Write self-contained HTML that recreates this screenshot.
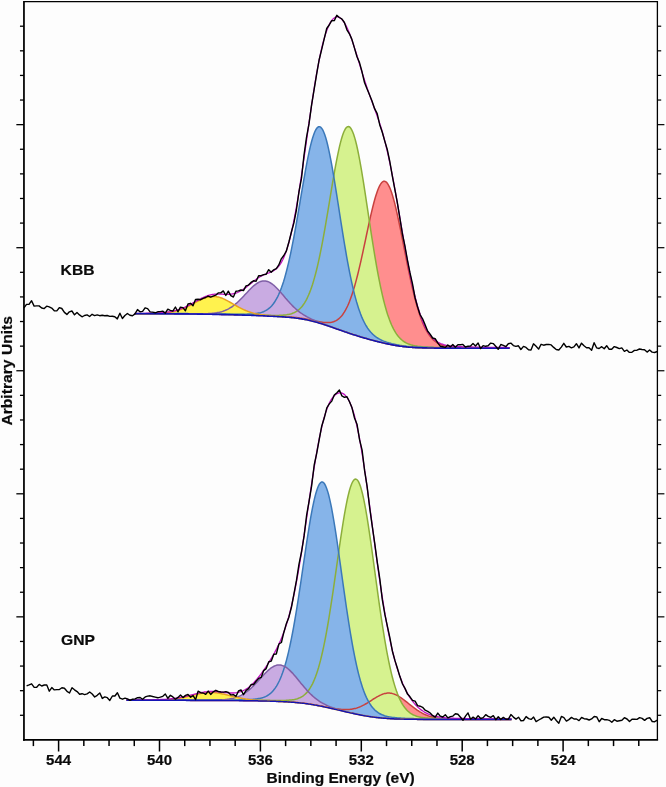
<!DOCTYPE html>
<html lang="en">
<head>
<meta charset="utf-8">
<title>XPS O 1s spectra</title>
<style>
html,body{margin:0;padding:0;background:#fdfdfd;}
body{width:666px;height:787px;overflow:hidden;}
svg{display:block;}
.t{font-family:"Liberation Sans",sans-serif;font-weight:bold;font-size:15px;fill:#0a0a0a;stroke:#0a0a0a;stroke-width:0.2px;}
.l{font-size:15px;}
</style>
</head>
<body>
<svg width="666" height="787" viewBox="0 0 666 787">
<rect width="666" height="787" fill="#fdfdfd"/>
<polygon points="268.6,315.8 269.6,315.8 270.6,315.9 271.6,315.9 272.6,316.0 273.6,316.0 274.6,316.1 275.6,316.1 276.6,316.2 277.6,316.2 278.6,316.3 279.6,316.3 280.6,316.4 281.6,316.4 282.6,316.5 283.6,316.5 284.6,316.6 285.6,316.7 286.6,316.7 287.6,316.8 288.6,316.9 289.6,317.0 290.6,317.0 291.6,317.1 292.6,317.2 293.6,317.3 294.6,317.4 295.6,317.5 296.6,317.6 297.6,317.8 298.6,317.9 299.6,318.0 300.6,318.2 301.6,318.3 302.6,318.5 303.6,318.6 304.6,318.8 305.6,319.0 306.6,319.2 307.6,319.3 308.6,319.5 309.6,319.7 310.6,319.9 311.6,320.1 312.6,320.3 313.6,320.5 314.6,320.7 315.6,321.0 316.6,321.2 317.6,321.4 318.6,321.6 319.6,321.7 320.6,321.9 321.6,322.1 322.6,322.2 323.6,322.4 324.6,322.5 325.6,322.6 326.6,322.6 327.6,322.6 328.6,322.6 329.6,322.5 330.6,322.4 331.6,322.3 332.6,322.0 333.6,321.7 334.6,321.3 335.6,320.9 336.6,320.3 337.6,319.7 338.6,318.9 339.6,318.0 340.6,317.0 341.6,315.9 342.6,314.7 343.6,313.2 344.6,311.7 345.6,309.9 346.6,308.0 347.6,306.0 348.6,303.7 349.6,301.3 350.6,298.6 351.6,295.8 352.6,292.8 353.6,289.6 354.6,286.2 355.6,282.6 356.6,278.9 357.6,275.0 358.6,270.9 359.6,266.7 360.6,262.3 361.6,257.9 362.6,253.3 363.6,248.7 364.6,244.0 365.6,239.3 366.6,234.5 367.6,229.8 368.6,225.2 369.6,220.6 370.6,216.1 371.6,211.8 372.6,207.7 373.6,203.7 374.6,200.0 375.6,196.5 376.6,193.4 377.6,190.5 378.6,188.0 379.6,185.9 380.6,184.1 381.6,182.8 382.6,181.8 383.6,181.3 384.6,181.2 385.6,181.6 386.6,182.4 387.6,183.6 388.6,185.3 389.6,187.3 390.6,189.7 391.6,192.5 392.6,195.7 393.6,199.2 394.6,202.9 395.6,207.0 396.6,211.3 397.6,215.8 398.6,220.5 399.6,225.3 400.6,230.2 401.6,235.3 402.6,240.4 403.6,245.5 404.6,250.6 405.6,255.7 406.6,260.8 407.6,265.8 408.6,270.6 409.6,275.4 410.6,280.1 411.6,284.6 412.6,289.0 413.6,293.2 414.6,297.2 415.6,301.0 416.6,304.7 417.6,308.1 418.6,311.4 419.6,314.5 420.6,317.4 421.6,320.1 422.6,322.6 423.6,324.9 424.6,327.1 425.6,329.1 426.6,331.0 427.6,332.6 428.6,334.2 429.6,335.6 430.6,336.9 431.6,338.1 432.6,339.1 433.6,340.1 434.6,340.9 435.6,341.7 436.6,342.4 437.6,343.0 438.6,343.5 439.6,344.0 440.6,344.5 441.6,344.8 442.6,345.2 443.6,345.5 444.6,345.7 445.6,346.0 446.6,346.2 447.6,346.4 448.6,346.5 449.6,346.6 450.6,346.8 451.6,346.9 452.6,347.0 453.6,347.0 454.6,347.1 455.6,347.2 456.6,347.2 457.6,347.3 458.6,347.3 459.6,347.4 460.6,347.4 461.6,347.4 462.6,347.5 463.6,347.5 464.6,347.5 465.6,347.5 466.6,347.6 467.6,347.6 468.6,347.6 469.6,347.6 470.6,347.6 471.6,347.6 472.6,347.6 473.6,347.7 474.6,347.7 475.6,347.7 476.6,347.7 477.6,347.7 478.6,347.7 479.6,347.7 480.6,347.7 481.6,347.7 482.6,347.8 483.6,347.8 484.6,347.8 485.6,347.8 486.6,347.8 487.6,347.8 488.6,347.8 489.6,347.8 490.6,347.8 491.6,347.8 492.6,347.8 493.6,347.8 494.6,347.9 495.6,347.9 496.6,347.9 497.6,347.9 498.6,347.9 499.6,347.9 500.6,347.9 500.6,348.2 499.6,348.2 498.6,348.2 497.6,348.2 496.6,348.2 495.6,348.2 494.6,348.2 493.6,348.2 492.6,348.2 491.6,348.2 490.6,348.2 489.6,348.2 488.6,348.2 487.6,348.2 486.6,348.2 485.6,348.2 484.6,348.2 483.6,348.2 482.6,348.2 481.6,348.2 480.6,348.2 479.6,348.2 478.6,348.2 477.6,348.2 476.6,348.2 475.6,348.2 474.6,348.2 473.6,348.2 472.6,348.2 471.6,348.2 470.6,348.2 469.6,348.2 468.6,348.2 467.6,348.2 466.6,348.2 465.6,348.2 464.6,348.2 463.6,348.2 462.6,348.2 461.6,348.2 460.6,348.1 459.6,348.1 458.6,348.1 457.6,348.1 456.6,348.1 455.6,348.1 454.6,348.1 453.6,348.1 452.6,348.1 451.6,348.1 450.6,348.1 449.6,348.1 448.6,348.1 447.6,348.1 446.6,348.1 445.6,348.1 444.6,348.1 443.6,348.1 442.6,348.1 441.6,348.1 440.6,348.1 439.6,348.1 438.6,348.1 437.6,348.1 436.6,348.1 435.6,348.1 434.6,348.1 433.6,348.0 432.6,348.0 431.6,348.0 430.6,348.0 429.6,348.0 428.6,348.0 427.6,348.0 426.6,347.9 425.6,347.9 424.6,347.9 423.6,347.9 422.6,347.9 421.6,347.8 420.6,347.8 419.6,347.8 418.6,347.7 417.6,347.7 416.6,347.6 415.6,347.6 414.6,347.5 413.6,347.5 412.6,347.4 411.6,347.3 410.6,347.3 409.6,347.2 408.6,347.1 407.6,347.0 406.6,346.9 405.6,346.8 404.6,346.7 403.6,346.6 402.6,346.5 401.6,346.3 400.6,346.2 399.6,346.1 398.6,345.9 397.6,345.8 396.6,345.6 395.6,345.4 394.6,345.3 393.6,345.1 392.6,344.9 391.6,344.7 390.6,344.5 389.6,344.3 388.6,344.1 387.6,343.9 386.6,343.7 385.6,343.5 384.6,343.2 383.6,343.0 382.6,342.8 381.6,342.5 380.6,342.3 379.6,342.1 378.6,341.8 377.6,341.6 376.6,341.3 375.6,341.1 374.6,340.8 373.6,340.5 372.6,340.3 371.6,340.0 370.6,339.7 369.6,339.5 368.6,339.2 367.6,338.9 366.6,338.6 365.6,338.3 364.6,338.1 363.6,337.8 362.6,337.5 361.6,337.2 360.6,336.9 359.6,336.6 358.6,336.3 357.6,336.0 356.6,335.6 355.6,335.3 354.6,335.0 353.6,334.7 352.6,334.4 351.6,334.0 350.6,333.7 349.6,333.4 348.6,333.0 347.6,332.7 346.6,332.3 345.6,332.0 344.6,331.7 343.6,331.3 342.6,331.0 341.6,330.6 340.6,330.3 339.6,329.9 338.6,329.6 337.6,329.2 336.6,328.9 335.6,328.5 334.6,328.2 333.6,327.8 332.6,327.5 331.6,327.1 330.6,326.8 329.6,326.4 328.6,326.1 327.6,325.7 326.6,325.4 325.6,325.1 324.6,324.7 323.6,324.4 322.6,324.1 321.6,323.8 320.6,323.5 319.6,323.2 318.6,322.9 317.6,322.6 316.6,322.3 315.6,322.0 314.6,321.7 313.6,321.5 312.6,321.2 311.6,321.0 310.6,320.7 309.6,320.5 308.6,320.3 307.6,320.0 306.6,319.8 305.6,319.6 304.6,319.4 303.6,319.3 302.6,319.1 301.6,318.9 300.6,318.7 299.6,318.6 298.6,318.4 297.6,318.3 296.6,318.2 295.6,318.0 294.6,317.9 293.6,317.8 292.6,317.7 291.6,317.6 290.6,317.5 289.6,317.4 288.6,317.3 287.6,317.2 286.6,317.2 285.6,317.1 284.6,317.0 283.6,316.9 282.6,316.9 281.6,316.8 280.6,316.7 279.6,316.7 278.6,316.6 277.6,316.6 276.6,316.5 275.6,316.5 274.6,316.4 273.6,316.4 272.6,316.3 271.6,316.3 270.6,316.2 269.6,316.2 268.6,316.1" fill="#ff8e8e"/>
<polygon points="217.6,314.2 218.6,314.2 219.6,314.2 220.6,314.2 221.6,314.2 222.6,314.3 223.6,314.3 224.6,314.3 225.6,314.3 226.6,314.3 227.6,314.3 228.6,314.4 229.6,314.4 230.6,314.4 231.6,314.4 232.6,314.4 233.6,314.4 234.6,314.5 235.6,314.5 236.6,314.5 237.6,314.5 238.6,314.5 239.6,314.6 240.6,314.6 241.6,314.6 242.6,314.6 243.6,314.6 244.6,314.7 245.6,314.7 246.6,314.7 247.6,314.7 248.6,314.7 249.6,314.8 250.6,314.8 251.6,314.8 252.6,314.8 253.6,314.9 254.6,314.9 255.6,314.9 256.6,315.0 257.6,315.0 258.6,315.0 259.6,315.0 260.6,315.1 261.6,315.1 262.6,315.1 263.6,315.2 264.6,315.2 265.6,315.2 266.6,315.2 267.6,315.3 268.6,315.3 269.6,315.3 270.6,315.3 271.6,315.4 272.6,315.4 273.6,315.4 274.6,315.4 275.6,315.4 276.6,315.4 277.6,315.4 278.6,315.4 279.6,315.3 280.6,315.3 281.6,315.3 282.6,315.2 283.6,315.1 284.6,315.0 285.6,314.9 286.6,314.8 287.6,314.6 288.6,314.5 289.6,314.2 290.6,314.0 291.6,313.7 292.6,313.3 293.6,312.9 294.6,312.5 295.6,311.9 296.6,311.3 297.6,310.6 298.6,309.8 299.6,309.0 300.6,308.0 301.6,306.9 302.6,305.7 303.6,304.3 304.6,302.8 305.6,301.1 306.6,299.3 307.6,297.2 308.6,295.0 309.6,292.6 310.6,290.0 311.6,287.2 312.6,284.2 313.6,280.9 314.6,277.4 315.6,273.7 316.6,269.7 317.6,265.6 318.6,261.1 319.6,256.5 320.6,251.7 321.6,246.6 322.6,241.3 323.6,235.9 324.6,230.3 325.6,224.6 326.6,218.7 327.6,212.8 328.6,206.8 329.6,200.8 330.6,194.7 331.6,188.7 332.6,182.7 333.6,176.9 334.6,171.2 335.6,165.7 336.6,160.4 337.6,155.3 338.6,150.6 339.6,146.2 340.6,142.1 341.6,138.5 342.6,135.3 343.6,132.5 344.6,130.3 345.6,128.5 346.6,127.3 347.6,126.7 348.6,126.6 349.6,127.0 350.6,128.0 351.6,129.6 352.6,131.7 353.6,134.3 354.6,137.4 355.6,141.0 356.6,145.0 357.6,149.5 358.6,154.4 359.6,159.6 360.6,165.1 361.6,170.9 362.6,177.0 363.6,183.2 364.6,189.6 365.6,196.1 366.6,202.8 367.6,209.4 368.6,216.1 369.6,222.7 370.6,229.3 371.6,235.8 372.6,242.2 373.6,248.5 374.6,254.6 375.6,260.5 376.6,266.3 377.6,271.8 378.6,277.2 379.6,282.2 380.6,287.1 381.6,291.7 382.6,296.1 383.6,300.2 384.6,304.1 385.6,307.8 386.6,311.2 387.6,314.4 388.6,317.3 389.6,320.1 390.6,322.6 391.6,325.0 392.6,327.1 393.6,329.1 394.6,330.9 395.6,332.6 396.6,334.1 397.6,335.5 398.6,336.7 399.6,337.8 400.6,338.9 401.6,339.8 402.6,340.6 403.6,341.3 404.6,342.0 405.6,342.6 406.6,343.1 407.6,343.6 408.6,344.0 409.6,344.4 410.6,344.8 411.6,345.1 412.6,345.3 413.6,345.6 414.6,345.8 415.6,346.0 416.6,346.1 417.6,346.3 418.6,346.4 419.6,346.5 420.6,346.6 421.6,346.7 422.6,346.8 423.6,346.9 424.6,346.9 425.6,347.0 426.6,347.1 427.6,347.1 428.6,347.2 429.6,347.2 430.6,347.2 431.6,347.3 432.6,347.3 433.6,347.3 434.6,347.4 435.6,347.4 436.6,347.4 437.6,347.4 438.6,347.5 439.6,347.5 440.6,347.5 441.6,347.5 442.6,347.5 443.6,347.5 444.6,347.6 445.6,347.6 446.6,347.6 447.6,347.6 448.6,347.6 449.6,347.6 450.6,347.6 451.6,347.6 452.6,347.7 453.6,347.7 454.6,347.7 455.6,347.7 456.6,347.7 457.6,347.7 458.6,347.7 459.6,347.7 460.6,347.7 461.6,347.7 462.6,347.8 463.6,347.8 464.6,347.8 465.6,347.8 466.6,347.8 467.6,347.8 468.6,347.8 469.6,347.8 470.6,347.8 471.6,347.8 472.6,347.8 473.6,347.8 474.6,347.8 475.6,347.8 476.6,347.9 477.6,347.9 478.6,347.9 479.6,347.9 480.6,347.9 480.6,348.2 479.6,348.2 478.6,348.2 477.6,348.2 476.6,348.2 475.6,348.2 474.6,348.2 473.6,348.2 472.6,348.2 471.6,348.2 470.6,348.2 469.6,348.2 468.6,348.2 467.6,348.2 466.6,348.2 465.6,348.2 464.6,348.2 463.6,348.2 462.6,348.2 461.6,348.2 460.6,348.1 459.6,348.1 458.6,348.1 457.6,348.1 456.6,348.1 455.6,348.1 454.6,348.1 453.6,348.1 452.6,348.1 451.6,348.1 450.6,348.1 449.6,348.1 448.6,348.1 447.6,348.1 446.6,348.1 445.6,348.1 444.6,348.1 443.6,348.1 442.6,348.1 441.6,348.1 440.6,348.1 439.6,348.1 438.6,348.1 437.6,348.1 436.6,348.1 435.6,348.1 434.6,348.1 433.6,348.0 432.6,348.0 431.6,348.0 430.6,348.0 429.6,348.0 428.6,348.0 427.6,348.0 426.6,347.9 425.6,347.9 424.6,347.9 423.6,347.9 422.6,347.9 421.6,347.8 420.6,347.8 419.6,347.8 418.6,347.7 417.6,347.7 416.6,347.6 415.6,347.6 414.6,347.5 413.6,347.5 412.6,347.4 411.6,347.3 410.6,347.3 409.6,347.2 408.6,347.1 407.6,347.0 406.6,346.9 405.6,346.8 404.6,346.7 403.6,346.6 402.6,346.5 401.6,346.3 400.6,346.2 399.6,346.1 398.6,345.9 397.6,345.8 396.6,345.6 395.6,345.4 394.6,345.3 393.6,345.1 392.6,344.9 391.6,344.7 390.6,344.5 389.6,344.3 388.6,344.1 387.6,343.9 386.6,343.7 385.6,343.5 384.6,343.2 383.6,343.0 382.6,342.8 381.6,342.5 380.6,342.3 379.6,342.1 378.6,341.8 377.6,341.6 376.6,341.3 375.6,341.1 374.6,340.8 373.6,340.5 372.6,340.3 371.6,340.0 370.6,339.7 369.6,339.5 368.6,339.2 367.6,338.9 366.6,338.6 365.6,338.3 364.6,338.1 363.6,337.8 362.6,337.5 361.6,337.2 360.6,336.9 359.6,336.6 358.6,336.3 357.6,336.0 356.6,335.6 355.6,335.3 354.6,335.0 353.6,334.7 352.6,334.4 351.6,334.0 350.6,333.7 349.6,333.4 348.6,333.0 347.6,332.7 346.6,332.3 345.6,332.0 344.6,331.7 343.6,331.3 342.6,331.0 341.6,330.6 340.6,330.3 339.6,329.9 338.6,329.6 337.6,329.2 336.6,328.9 335.6,328.5 334.6,328.2 333.6,327.8 332.6,327.5 331.6,327.1 330.6,326.8 329.6,326.4 328.6,326.1 327.6,325.7 326.6,325.4 325.6,325.1 324.6,324.7 323.6,324.4 322.6,324.1 321.6,323.8 320.6,323.5 319.6,323.2 318.6,322.9 317.6,322.6 316.6,322.3 315.6,322.0 314.6,321.7 313.6,321.5 312.6,321.2 311.6,321.0 310.6,320.7 309.6,320.5 308.6,320.3 307.6,320.0 306.6,319.8 305.6,319.6 304.6,319.4 303.6,319.3 302.6,319.1 301.6,318.9 300.6,318.7 299.6,318.6 298.6,318.4 297.6,318.3 296.6,318.2 295.6,318.0 294.6,317.9 293.6,317.8 292.6,317.7 291.6,317.6 290.6,317.5 289.6,317.4 288.6,317.3 287.6,317.2 286.6,317.2 285.6,317.1 284.6,317.0 283.6,316.9 282.6,316.9 281.6,316.8 280.6,316.7 279.6,316.7 278.6,316.6 277.6,316.6 276.6,316.5 275.6,316.5 274.6,316.4 273.6,316.4 272.6,316.3 271.6,316.3 270.6,316.2 269.6,316.2 268.6,316.1 267.6,316.1 266.6,316.0 265.6,316.0 264.6,315.9 263.6,315.9 262.6,315.8 261.6,315.8 260.6,315.7 259.6,315.7 258.6,315.6 257.6,315.6 256.6,315.6 255.6,315.5 254.6,315.5 253.6,315.4 252.6,315.4 251.6,315.4 250.6,315.3 249.6,315.3 248.6,315.3 247.6,315.2 246.6,315.2 245.6,315.2 244.6,315.1 243.6,315.1 242.6,315.1 241.6,315.0 240.6,315.0 239.6,315.0 238.6,315.0 237.6,314.9 236.6,314.9 235.6,314.9 234.6,314.9 233.6,314.8 232.6,314.8 231.6,314.8 230.6,314.8 229.6,314.7 228.6,314.7 227.6,314.7 226.6,314.7 225.6,314.6 224.6,314.6 223.6,314.6 222.6,314.6 221.6,314.6 220.6,314.5 219.6,314.5 218.6,314.5 217.6,314.5" fill="#d6f28f"/>
<polygon points="191.6,313.7 192.6,313.7 193.6,313.7 194.6,313.7 195.6,313.7 196.6,313.7 197.6,313.7 198.6,313.7 199.6,313.7 200.6,313.8 201.6,313.8 202.6,313.8 203.6,313.8 204.6,313.8 205.6,313.8 206.6,313.8 207.6,313.9 208.6,313.9 209.6,313.9 210.6,313.9 211.6,313.9 212.6,313.9 213.6,313.9 214.6,314.0 215.6,314.0 216.6,314.0 217.6,314.0 218.6,314.0 219.6,314.0 220.6,314.0 221.6,314.1 222.6,314.1 223.6,314.1 224.6,314.1 225.6,314.1 226.6,314.1 227.6,314.1 228.6,314.1 229.6,314.1 230.6,314.2 231.6,314.2 232.6,314.2 233.6,314.2 234.6,314.2 235.6,314.2 236.6,314.2 237.6,314.2 238.6,314.2 239.6,314.2 240.6,314.2 241.6,314.2 242.6,314.2 243.6,314.2 244.6,314.2 245.6,314.2 246.6,314.2 247.6,314.1 248.6,314.1 249.6,314.1 250.6,314.0 251.6,314.0 252.6,313.9 253.6,313.8 254.6,313.7 255.6,313.6 256.6,313.5 257.6,313.3 258.6,313.1 259.6,312.9 260.6,312.7 261.6,312.4 262.6,312.0 263.6,311.7 264.6,311.2 265.6,310.7 266.6,310.1 267.6,309.5 268.6,308.7 269.6,307.9 270.6,307.0 271.6,305.9 272.6,304.7 273.6,303.5 274.6,302.0 275.6,300.4 276.6,298.7 277.6,296.8 278.6,294.7 279.6,292.4 280.6,290.0 281.6,287.3 282.6,284.4 283.6,281.4 284.6,278.1 285.6,274.5 286.6,270.8 287.6,266.8 288.6,262.6 289.6,258.2 290.6,253.6 291.6,248.7 292.6,243.7 293.6,238.5 294.6,233.1 295.6,227.6 296.6,222.0 297.6,216.2 298.6,210.4 299.6,204.5 300.6,198.5 301.6,192.6 302.6,186.8 303.6,181.0 304.6,175.3 305.6,169.7 306.6,164.3 307.6,159.2 308.6,154.3 309.6,149.7 310.6,145.4 311.6,141.5 312.6,138.0 313.6,134.9 314.6,132.3 315.6,130.2 316.6,128.5 317.6,127.4 318.6,126.8 319.6,126.7 320.6,127.2 321.6,128.2 322.6,129.7 323.6,131.7 324.6,134.3 325.6,137.3 326.6,140.8 327.6,144.8 328.6,149.1 329.6,153.8 330.6,158.8 331.6,164.2 332.6,169.8 333.6,175.6 334.6,181.7 335.6,187.8 336.6,194.1 337.6,200.5 338.6,206.9 339.6,213.4 340.6,219.8 341.6,226.1 342.6,232.4 343.6,238.6 344.6,244.6 345.6,250.5 346.6,256.3 347.6,261.8 348.6,267.2 349.6,272.3 350.6,277.2 351.6,281.9 352.6,286.4 353.6,290.6 354.6,294.7 355.6,298.4 356.6,302.0 357.6,305.3 358.6,308.4 359.6,311.3 360.6,314.1 361.6,316.6 362.6,318.9 363.6,321.0 364.6,323.0 365.6,324.9 366.6,326.5 367.6,328.1 368.6,329.5 369.6,330.8 370.6,332.0 371.6,333.1 372.6,334.1 373.6,335.0 374.6,335.9 375.6,336.7 376.6,337.4 377.6,338.0 378.6,338.6 379.6,339.2 380.6,339.7 381.6,340.2 382.6,340.6 383.6,341.1 384.6,341.4 385.6,341.8 386.6,342.2 387.6,342.5 388.6,342.8 389.6,343.1 390.6,343.3 391.6,343.6 392.6,343.9 393.6,344.1 394.6,344.3 395.6,344.5 396.6,344.7 397.6,344.9 398.6,345.1 399.6,345.3 400.6,345.4 401.6,345.6 402.6,345.7 403.6,345.9 404.6,346.0 405.6,346.1 406.6,346.3 407.6,346.4 408.6,346.5 409.6,346.6 410.6,346.7 411.6,346.7 412.6,346.8 413.6,346.9 414.6,347.0 415.6,347.0 416.6,347.1 417.6,347.2 418.6,347.2 419.6,347.3 420.6,347.3 421.6,347.3 422.6,347.4 423.6,347.4 424.6,347.5 425.6,347.5 426.6,347.5 427.6,347.5 428.6,347.6 429.6,347.6 430.6,347.6 431.6,347.6 432.6,347.6 433.6,347.7 434.6,347.7 435.6,347.7 436.6,347.7 437.6,347.7 438.6,347.7 439.6,347.7 440.6,347.8 441.6,347.8 442.6,347.8 443.6,347.8 444.6,347.8 445.6,347.8 446.6,347.8 447.6,347.8 447.6,348.1 446.6,348.1 445.6,348.1 444.6,348.1 443.6,348.1 442.6,348.1 441.6,348.1 440.6,348.1 439.6,348.1 438.6,348.1 437.6,348.1 436.6,348.1 435.6,348.1 434.6,348.1 433.6,348.0 432.6,348.0 431.6,348.0 430.6,348.0 429.6,348.0 428.6,348.0 427.6,348.0 426.6,347.9 425.6,347.9 424.6,347.9 423.6,347.9 422.6,347.9 421.6,347.8 420.6,347.8 419.6,347.8 418.6,347.7 417.6,347.7 416.6,347.6 415.6,347.6 414.6,347.5 413.6,347.5 412.6,347.4 411.6,347.3 410.6,347.3 409.6,347.2 408.6,347.1 407.6,347.0 406.6,346.9 405.6,346.8 404.6,346.7 403.6,346.6 402.6,346.5 401.6,346.3 400.6,346.2 399.6,346.1 398.6,345.9 397.6,345.8 396.6,345.6 395.6,345.4 394.6,345.3 393.6,345.1 392.6,344.9 391.6,344.7 390.6,344.5 389.6,344.3 388.6,344.1 387.6,343.9 386.6,343.7 385.6,343.5 384.6,343.2 383.6,343.0 382.6,342.8 381.6,342.5 380.6,342.3 379.6,342.1 378.6,341.8 377.6,341.6 376.6,341.3 375.6,341.1 374.6,340.8 373.6,340.5 372.6,340.3 371.6,340.0 370.6,339.7 369.6,339.5 368.6,339.2 367.6,338.9 366.6,338.6 365.6,338.3 364.6,338.1 363.6,337.8 362.6,337.5 361.6,337.2 360.6,336.9 359.6,336.6 358.6,336.3 357.6,336.0 356.6,335.6 355.6,335.3 354.6,335.0 353.6,334.7 352.6,334.4 351.6,334.0 350.6,333.7 349.6,333.4 348.6,333.0 347.6,332.7 346.6,332.3 345.6,332.0 344.6,331.7 343.6,331.3 342.6,331.0 341.6,330.6 340.6,330.3 339.6,329.9 338.6,329.6 337.6,329.2 336.6,328.9 335.6,328.5 334.6,328.2 333.6,327.8 332.6,327.5 331.6,327.1 330.6,326.8 329.6,326.4 328.6,326.1 327.6,325.7 326.6,325.4 325.6,325.1 324.6,324.7 323.6,324.4 322.6,324.1 321.6,323.8 320.6,323.5 319.6,323.2 318.6,322.9 317.6,322.6 316.6,322.3 315.6,322.0 314.6,321.7 313.6,321.5 312.6,321.2 311.6,321.0 310.6,320.7 309.6,320.5 308.6,320.3 307.6,320.0 306.6,319.8 305.6,319.6 304.6,319.4 303.6,319.3 302.6,319.1 301.6,318.9 300.6,318.7 299.6,318.6 298.6,318.4 297.6,318.3 296.6,318.2 295.6,318.0 294.6,317.9 293.6,317.8 292.6,317.7 291.6,317.6 290.6,317.5 289.6,317.4 288.6,317.3 287.6,317.2 286.6,317.2 285.6,317.1 284.6,317.0 283.6,316.9 282.6,316.9 281.6,316.8 280.6,316.7 279.6,316.7 278.6,316.6 277.6,316.6 276.6,316.5 275.6,316.5 274.6,316.4 273.6,316.4 272.6,316.3 271.6,316.3 270.6,316.2 269.6,316.2 268.6,316.1 267.6,316.1 266.6,316.0 265.6,316.0 264.6,315.9 263.6,315.9 262.6,315.8 261.6,315.8 260.6,315.7 259.6,315.7 258.6,315.6 257.6,315.6 256.6,315.6 255.6,315.5 254.6,315.5 253.6,315.4 252.6,315.4 251.6,315.4 250.6,315.3 249.6,315.3 248.6,315.3 247.6,315.2 246.6,315.2 245.6,315.2 244.6,315.1 243.6,315.1 242.6,315.1 241.6,315.0 240.6,315.0 239.6,315.0 238.6,315.0 237.6,314.9 236.6,314.9 235.6,314.9 234.6,314.9 233.6,314.8 232.6,314.8 231.6,314.8 230.6,314.8 229.6,314.7 228.6,314.7 227.6,314.7 226.6,314.7 225.6,314.6 224.6,314.6 223.6,314.6 222.6,314.6 221.6,314.6 220.6,314.5 219.6,314.5 218.6,314.5 217.6,314.5 216.6,314.4 215.6,314.4 214.6,314.4 213.6,314.4 212.6,314.4 211.6,314.3 210.6,314.3 209.6,314.3 208.6,314.3 207.6,314.2 206.6,314.2 205.6,314.2 204.6,314.2 203.6,314.2 202.6,314.1 201.6,314.1 200.6,314.1 199.6,314.1 198.6,314.1 197.6,314.1 196.6,314.0 195.6,314.0 194.6,314.0 193.6,314.0 192.6,314.0 191.6,314.0" fill="#86b4e9"/>
<polygon points="201.6,313.8 202.6,313.8 203.6,313.8 204.6,313.7 205.6,313.7 206.6,313.7 207.6,313.7 208.6,313.6 209.6,313.5 210.6,313.5 211.6,313.4 212.6,313.3 213.6,313.2 214.6,313.1 215.6,312.9 216.6,312.8 217.6,312.6 218.6,312.4 219.6,312.2 220.6,311.9 221.6,311.7 222.6,311.4 223.6,311.0 224.6,310.6 225.6,310.2 226.6,309.8 227.6,309.3 228.6,308.8 229.6,308.2 230.6,307.6 231.6,307.0 232.6,306.3 233.6,305.5 234.6,304.8 235.6,303.9 236.6,303.1 237.6,302.2 238.6,301.3 239.6,300.3 240.6,299.3 241.6,298.3 242.6,297.2 243.6,296.2 244.6,295.1 245.6,294.0 246.6,293.0 247.6,291.9 248.6,290.8 249.6,289.8 250.6,288.8 251.6,287.8 252.6,286.8 253.6,285.9 254.6,285.1 255.6,284.3 256.6,283.6 257.6,283.0 258.6,282.4 259.6,281.9 260.6,281.5 261.6,281.2 262.6,281.0 263.6,280.9 264.6,280.9 265.6,281.0 266.6,281.2 267.6,281.5 268.6,281.9 269.6,282.4 270.6,283.0 271.6,283.6 272.6,284.3 273.6,285.2 274.6,286.0 275.6,287.0 276.6,288.0 277.6,289.0 278.6,290.1 279.6,291.2 280.6,292.3 281.6,293.5 282.6,294.6 283.6,295.8 284.6,297.0 285.6,298.2 286.6,299.3 287.6,300.5 288.6,301.6 289.6,302.7 290.6,303.8 291.6,304.8 292.6,305.9 293.6,306.9 294.6,307.8 295.6,308.7 296.6,309.6 297.6,310.5 298.6,311.3 299.6,312.1 300.6,312.8 301.6,313.5 302.6,314.2 303.6,314.8 304.6,315.4 305.6,316.0 306.6,316.6 307.6,317.1 308.6,317.7 309.6,318.2 310.6,318.7 311.6,319.1 312.6,319.6 313.6,320.0 314.6,320.4 315.6,320.9 316.6,321.3 317.6,321.7 318.6,322.1 319.6,322.4 320.6,322.8 321.6,323.2 322.6,323.6 323.6,323.9 324.6,324.3 325.6,324.7 326.6,325.0 327.6,325.4 327.6,325.7 326.6,325.4 325.6,325.1 324.6,324.7 323.6,324.4 322.6,324.1 321.6,323.8 320.6,323.5 319.6,323.2 318.6,322.9 317.6,322.6 316.6,322.3 315.6,322.0 314.6,321.7 313.6,321.5 312.6,321.2 311.6,321.0 310.6,320.7 309.6,320.5 308.6,320.3 307.6,320.0 306.6,319.8 305.6,319.6 304.6,319.4 303.6,319.3 302.6,319.1 301.6,318.9 300.6,318.7 299.6,318.6 298.6,318.4 297.6,318.3 296.6,318.2 295.6,318.0 294.6,317.9 293.6,317.8 292.6,317.7 291.6,317.6 290.6,317.5 289.6,317.4 288.6,317.3 287.6,317.2 286.6,317.2 285.6,317.1 284.6,317.0 283.6,316.9 282.6,316.9 281.6,316.8 280.6,316.7 279.6,316.7 278.6,316.6 277.6,316.6 276.6,316.5 275.6,316.5 274.6,316.4 273.6,316.4 272.6,316.3 271.6,316.3 270.6,316.2 269.6,316.2 268.6,316.1 267.6,316.1 266.6,316.0 265.6,316.0 264.6,315.9 263.6,315.9 262.6,315.8 261.6,315.8 260.6,315.7 259.6,315.7 258.6,315.6 257.6,315.6 256.6,315.6 255.6,315.5 254.6,315.5 253.6,315.4 252.6,315.4 251.6,315.4 250.6,315.3 249.6,315.3 248.6,315.3 247.6,315.2 246.6,315.2 245.6,315.2 244.6,315.1 243.6,315.1 242.6,315.1 241.6,315.0 240.6,315.0 239.6,315.0 238.6,315.0 237.6,314.9 236.6,314.9 235.6,314.9 234.6,314.9 233.6,314.8 232.6,314.8 231.6,314.8 230.6,314.8 229.6,314.7 228.6,314.7 227.6,314.7 226.6,314.7 225.6,314.6 224.6,314.6 223.6,314.6 222.6,314.6 221.6,314.6 220.6,314.5 219.6,314.5 218.6,314.5 217.6,314.5 216.6,314.4 215.6,314.4 214.6,314.4 213.6,314.4 212.6,314.4 211.6,314.3 210.6,314.3 209.6,314.3 208.6,314.3 207.6,314.2 206.6,314.2 205.6,314.2 204.6,314.2 203.6,314.2 202.6,314.1 201.6,314.1" fill="#c9abe2"/>
<polygon points="155.6,313.5 156.6,313.5 157.6,313.4 158.6,313.4 159.6,313.3 160.6,313.3 161.6,313.2 162.6,313.1 163.6,313.0 164.6,313.0 165.6,312.9 166.6,312.7 167.6,312.6 168.6,312.5 169.6,312.3 170.6,312.2 171.6,312.0 172.6,311.8 173.6,311.6 174.6,311.4 175.6,311.1 176.6,310.8 177.6,310.5 178.6,310.2 179.6,309.9 180.6,309.6 181.6,309.2 182.6,308.8 183.6,308.4 184.6,308.0 185.6,307.5 186.6,307.0 187.6,306.6 188.6,306.1 189.6,305.6 190.6,305.0 191.6,304.5 192.6,304.0 193.6,303.4 194.6,302.9 195.6,302.3 196.6,301.8 197.6,301.3 198.6,300.8 199.6,300.3 200.6,299.8 201.6,299.3 202.6,298.8 203.6,298.4 204.6,298.0 205.6,297.7 206.6,297.4 207.6,297.1 208.6,296.9 209.6,296.7 210.6,296.5 211.6,296.4 212.6,296.4 213.6,296.4 214.6,296.4 215.6,296.5 216.6,296.7 217.6,296.9 218.6,297.1 219.6,297.4 220.6,297.7 221.6,298.0 222.6,298.4 223.6,298.9 224.6,299.3 225.6,299.8 226.6,300.3 227.6,300.9 228.6,301.4 229.6,302.0 230.6,302.5 231.6,303.1 232.6,303.7 233.6,304.3 234.6,304.8 235.6,305.4 236.6,306.0 237.6,306.5 238.6,307.1 239.6,307.6 240.6,308.1 241.6,308.6 242.6,309.1 243.6,309.6 244.6,310.0 245.6,310.5 246.6,310.9 247.6,311.3 248.6,311.6 249.6,312.0 250.6,312.3 251.6,312.6 252.6,312.9 253.6,313.2 254.6,313.4 255.6,313.7 256.6,313.9 257.6,314.1 258.6,314.3 259.6,314.5 260.6,314.7 261.6,314.8 262.6,315.0 263.6,315.1 264.6,315.2 265.6,315.3 266.6,315.5 267.6,315.6 268.6,315.7 269.6,315.8 270.6,315.9 271.6,315.9 271.6,316.3 270.6,316.2 269.6,316.2 268.6,316.1 267.6,316.1 266.6,316.0 265.6,316.0 264.6,315.9 263.6,315.9 262.6,315.8 261.6,315.8 260.6,315.7 259.6,315.7 258.6,315.6 257.6,315.6 256.6,315.6 255.6,315.5 254.6,315.5 253.6,315.4 252.6,315.4 251.6,315.4 250.6,315.3 249.6,315.3 248.6,315.3 247.6,315.2 246.6,315.2 245.6,315.2 244.6,315.1 243.6,315.1 242.6,315.1 241.6,315.0 240.6,315.0 239.6,315.0 238.6,315.0 237.6,314.9 236.6,314.9 235.6,314.9 234.6,314.9 233.6,314.8 232.6,314.8 231.6,314.8 230.6,314.8 229.6,314.7 228.6,314.7 227.6,314.7 226.6,314.7 225.6,314.6 224.6,314.6 223.6,314.6 222.6,314.6 221.6,314.6 220.6,314.5 219.6,314.5 218.6,314.5 217.6,314.5 216.6,314.4 215.6,314.4 214.6,314.4 213.6,314.4 212.6,314.4 211.6,314.3 210.6,314.3 209.6,314.3 208.6,314.3 207.6,314.2 206.6,314.2 205.6,314.2 204.6,314.2 203.6,314.2 202.6,314.1 201.6,314.1 200.6,314.1 199.6,314.1 198.6,314.1 197.6,314.1 196.6,314.0 195.6,314.0 194.6,314.0 193.6,314.0 192.6,314.0 191.6,314.0 190.6,314.0 189.6,314.0 188.6,313.9 187.6,313.9 186.6,313.9 185.6,313.9 184.6,313.9 183.6,313.9 182.6,313.9 181.6,313.9 180.6,313.9 179.6,313.9 178.6,313.9 177.6,313.9 176.6,313.9 175.6,313.9 174.6,313.9 173.6,313.8 172.6,313.8 171.6,313.8 170.6,313.8 169.6,313.8 168.6,313.8 167.6,313.8 166.6,313.8 165.6,313.8 164.6,313.8 163.6,313.8 162.6,313.8 161.6,313.8 160.6,313.8 159.6,313.8 158.6,313.8 157.6,313.8 156.6,313.8 155.6,313.8" fill="#fff24e"/>
<polyline points="134.6,313.7 135.6,313.7 136.6,313.7 137.6,313.7 138.6,313.7 139.6,313.7 140.6,313.7 141.6,313.7 142.6,313.7 143.6,313.7 144.6,313.7 145.6,313.7 146.6,313.7 147.6,313.7 148.6,313.7 149.6,313.7 150.6,313.7 151.6,313.7 152.6,313.7 153.6,313.7 154.6,313.7 155.6,313.7 156.6,313.7 157.6,313.7 158.6,313.7 159.6,313.7 160.6,313.7 161.6,313.7 162.6,313.7 163.6,313.7 164.6,313.7 165.6,313.7 166.6,313.7 167.6,313.7 168.6,313.7 169.6,313.7 170.6,313.7 171.6,313.7 172.6,313.8 173.6,313.8 174.6,313.8 175.6,313.8 176.6,313.8 177.6,313.8 178.6,313.8 179.6,313.8 180.6,313.8 181.6,313.8 182.6,313.8 183.6,313.8 184.6,313.8 185.6,313.8 186.6,313.8 187.6,313.8 188.6,313.8 189.6,313.8 190.6,313.9 191.6,313.9 192.6,313.9 193.6,313.9 194.6,313.9 195.6,313.9 196.6,313.9 197.6,313.9 198.6,314.0 199.6,314.0 200.6,314.0 201.6,314.0 202.6,314.0 203.6,314.0 204.6,314.1 205.6,314.1 206.6,314.1 207.6,314.1 208.6,314.1 209.6,314.1 210.6,314.2 211.6,314.2 212.6,314.2 213.6,314.2 214.6,314.3 215.6,314.3 216.6,314.3 217.6,314.3 218.6,314.3 219.6,314.4 220.6,314.4 221.6,314.4 222.6,314.4 223.6,314.4 224.6,314.5 225.6,314.5 226.6,314.5 227.6,314.5 228.6,314.5 229.6,314.6 230.6,314.6 231.6,314.6 232.6,314.6 233.6,314.7 234.6,314.7 235.6,314.7 236.6,314.7 237.6,314.7 238.6,314.8 239.6,314.8 240.6,314.8 241.6,314.8 242.6,314.9 243.6,314.9 244.6,314.9 245.6,314.9 246.6,315.0 247.6,315.0 248.6,315.0 249.6,315.1 250.6,315.1 251.6,315.1 252.6,315.2 253.6,315.2 254.6,315.2 255.6,315.3 256.6,315.3 257.6,315.3 258.6,315.4 259.6,315.4 260.6,315.5 261.6,315.5 262.6,315.5 263.6,315.6 264.6,315.6 265.6,315.7 266.6,315.7 267.6,315.8 268.6,315.8 269.6,315.8 270.6,315.9 271.6,315.9 272.6,316.0 273.6,316.0 274.6,316.1 275.6,316.1 276.6,316.2 277.6,316.2 278.6,316.3 279.6,316.3 280.6,316.4 281.6,316.4 282.6,316.5 283.6,316.5 284.6,316.6 285.6,316.7 286.6,316.7 287.6,316.8 288.6,316.9 289.6,317.0 290.6,317.0 291.6,317.1 292.6,317.2 293.6,317.3 294.6,317.4 295.6,317.5 296.6,317.6 297.6,317.8 298.6,317.9 299.6,318.0 300.6,318.2 301.6,318.3 302.6,318.5 303.6,318.6 304.6,318.8 305.6,319.0 306.6,319.2 307.6,319.3 308.6,319.5 309.6,319.7 310.6,319.9 311.6,320.1 312.6,320.3 313.6,320.5 314.6,320.7 315.6,321.0 316.6,321.2 317.6,321.4 318.6,321.6 319.6,321.7 320.6,321.9 321.6,322.1 322.6,322.2 323.6,322.4 324.6,322.5 325.6,322.6 326.6,322.6 327.6,322.6 328.6,322.6 329.6,322.5 330.6,322.4 331.6,322.3 332.6,322.0 333.6,321.7 334.6,321.3 335.6,320.9 336.6,320.3 337.6,319.7 338.6,318.9 339.6,318.0 340.6,317.0 341.6,315.9 342.6,314.7 343.6,313.2 344.6,311.7 345.6,309.9 346.6,308.0 347.6,306.0 348.6,303.7 349.6,301.3 350.6,298.6 351.6,295.8 352.6,292.8 353.6,289.6 354.6,286.2 355.6,282.6 356.6,278.9 357.6,275.0 358.6,270.9 359.6,266.7 360.6,262.3 361.6,257.9 362.6,253.3 363.6,248.7 364.6,244.0 365.6,239.3 366.6,234.5 367.6,229.8 368.6,225.2 369.6,220.6 370.6,216.1 371.6,211.8 372.6,207.7 373.6,203.7 374.6,200.0 375.6,196.5 376.6,193.4 377.6,190.5 378.6,188.0 379.6,185.9 380.6,184.1 381.6,182.8 382.6,181.8 383.6,181.3 384.6,181.2 385.6,181.6 386.6,182.4 387.6,183.6 388.6,185.3 389.6,187.3 390.6,189.7 391.6,192.5 392.6,195.7 393.6,199.2 394.6,202.9 395.6,207.0 396.6,211.3 397.6,215.8 398.6,220.5 399.6,225.3 400.6,230.2 401.6,235.3 402.6,240.4 403.6,245.5 404.6,250.6 405.6,255.7 406.6,260.8 407.6,265.8 408.6,270.6 409.6,275.4 410.6,280.1 411.6,284.6 412.6,289.0 413.6,293.2 414.6,297.2 415.6,301.0 416.6,304.7 417.6,308.1 418.6,311.4 419.6,314.5 420.6,317.4 421.6,320.1 422.6,322.6 423.6,324.9 424.6,327.1 425.6,329.1 426.6,331.0 427.6,332.6 428.6,334.2 429.6,335.6 430.6,336.9 431.6,338.1 432.6,339.1 433.6,340.1 434.6,340.9 435.6,341.7 436.6,342.4 437.6,343.0 438.6,343.5 439.6,344.0 440.6,344.5 441.6,344.8 442.6,345.2 443.6,345.5 444.6,345.7 445.6,346.0 446.6,346.2 447.6,346.4 448.6,346.5 449.6,346.6 450.6,346.8 451.6,346.9 452.6,347.0 453.6,347.0 454.6,347.1 455.6,347.2 456.6,347.2 457.6,347.3 458.6,347.3 459.6,347.4 460.6,347.4 461.6,347.4 462.6,347.5 463.6,347.5 464.6,347.5 465.6,347.5 466.6,347.6 467.6,347.6 468.6,347.6 469.6,347.6 470.6,347.6 471.6,347.6 472.6,347.6 473.6,347.7 474.6,347.7 475.6,347.7 476.6,347.7 477.6,347.7 478.6,347.7 479.6,347.7 480.6,347.7 481.6,347.7 482.6,347.8 483.6,347.8 484.6,347.8 485.6,347.8 486.6,347.8 487.6,347.8 488.6,347.8 489.6,347.8 490.6,347.8 491.6,347.8 492.6,347.8 493.6,347.8 494.6,347.9 495.6,347.9 496.6,347.9 497.6,347.9 498.6,347.9 499.6,347.9 500.6,347.9 501.6,347.9 502.6,347.9 503.6,347.9 504.6,347.9 505.6,347.9 506.6,347.9 507.6,347.9 508.6,347.9 509.6,347.9" fill="none" stroke="#c8413f" stroke-width="1.5"/>
<polyline points="134.6,313.7 135.6,313.7 136.6,313.7 137.6,313.7 138.6,313.7 139.6,313.7 140.6,313.7 141.6,313.7 142.6,313.7 143.6,313.7 144.6,313.7 145.6,313.7 146.6,313.7 147.6,313.7 148.6,313.7 149.6,313.7 150.6,313.7 151.6,313.7 152.6,313.7 153.6,313.7 154.6,313.7 155.6,313.7 156.6,313.7 157.6,313.7 158.6,313.7 159.6,313.7 160.6,313.7 161.6,313.7 162.6,313.7 163.6,313.7 164.6,313.7 165.6,313.7 166.6,313.7 167.6,313.7 168.6,313.7 169.6,313.7 170.6,313.7 171.6,313.7 172.6,313.7 173.6,313.7 174.6,313.7 175.6,313.7 176.6,313.7 177.6,313.7 178.6,313.7 179.6,313.7 180.6,313.7 181.6,313.7 182.6,313.7 183.6,313.7 184.6,313.7 185.6,313.7 186.6,313.7 187.6,313.7 188.6,313.7 189.6,313.7 190.6,313.8 191.6,313.8 192.6,313.8 193.6,313.8 194.6,313.8 195.6,313.8 196.6,313.8 197.6,313.8 198.6,313.8 199.6,313.9 200.6,313.9 201.6,313.9 202.6,313.9 203.6,313.9 204.6,313.9 205.6,313.9 206.6,314.0 207.6,314.0 208.6,314.0 209.6,314.0 210.6,314.0 211.6,314.1 212.6,314.1 213.6,314.1 214.6,314.1 215.6,314.1 216.6,314.1 217.6,314.2 218.6,314.2 219.6,314.2 220.6,314.2 221.6,314.2 222.6,314.3 223.6,314.3 224.6,314.3 225.6,314.3 226.6,314.3 227.6,314.3 228.6,314.4 229.6,314.4 230.6,314.4 231.6,314.4 232.6,314.4 233.6,314.4 234.6,314.5 235.6,314.5 236.6,314.5 237.6,314.5 238.6,314.5 239.6,314.6 240.6,314.6 241.6,314.6 242.6,314.6 243.6,314.6 244.6,314.7 245.6,314.7 246.6,314.7 247.6,314.7 248.6,314.7 249.6,314.8 250.6,314.8 251.6,314.8 252.6,314.8 253.6,314.9 254.6,314.9 255.6,314.9 256.6,315.0 257.6,315.0 258.6,315.0 259.6,315.0 260.6,315.1 261.6,315.1 262.6,315.1 263.6,315.2 264.6,315.2 265.6,315.2 266.6,315.2 267.6,315.3 268.6,315.3 269.6,315.3 270.6,315.3 271.6,315.4 272.6,315.4 273.6,315.4 274.6,315.4 275.6,315.4 276.6,315.4 277.6,315.4 278.6,315.4 279.6,315.3 280.6,315.3 281.6,315.3 282.6,315.2 283.6,315.1 284.6,315.0 285.6,314.9 286.6,314.8 287.6,314.6 288.6,314.5 289.6,314.2 290.6,314.0 291.6,313.7 292.6,313.3 293.6,312.9 294.6,312.5 295.6,311.9 296.6,311.3 297.6,310.6 298.6,309.8 299.6,309.0 300.6,308.0 301.6,306.9 302.6,305.7 303.6,304.3 304.6,302.8 305.6,301.1 306.6,299.3 307.6,297.2 308.6,295.0 309.6,292.6 310.6,290.0 311.6,287.2 312.6,284.2 313.6,280.9 314.6,277.4 315.6,273.7 316.6,269.7 317.6,265.6 318.6,261.1 319.6,256.5 320.6,251.7 321.6,246.6 322.6,241.3 323.6,235.9 324.6,230.3 325.6,224.6 326.6,218.7 327.6,212.8 328.6,206.8 329.6,200.8 330.6,194.7 331.6,188.7 332.6,182.7 333.6,176.9 334.6,171.2 335.6,165.7 336.6,160.4 337.6,155.3 338.6,150.6 339.6,146.2 340.6,142.1 341.6,138.5 342.6,135.3 343.6,132.5 344.6,130.3 345.6,128.5 346.6,127.3 347.6,126.7 348.6,126.6 349.6,127.0 350.6,128.0 351.6,129.6 352.6,131.7 353.6,134.3 354.6,137.4 355.6,141.0 356.6,145.0 357.6,149.5 358.6,154.4 359.6,159.6 360.6,165.1 361.6,170.9 362.6,177.0 363.6,183.2 364.6,189.6 365.6,196.1 366.6,202.8 367.6,209.4 368.6,216.1 369.6,222.7 370.6,229.3 371.6,235.8 372.6,242.2 373.6,248.5 374.6,254.6 375.6,260.5 376.6,266.3 377.6,271.8 378.6,277.2 379.6,282.2 380.6,287.1 381.6,291.7 382.6,296.1 383.6,300.2 384.6,304.1 385.6,307.8 386.6,311.2 387.6,314.4 388.6,317.3 389.6,320.1 390.6,322.6 391.6,325.0 392.6,327.1 393.6,329.1 394.6,330.9 395.6,332.6 396.6,334.1 397.6,335.5 398.6,336.7 399.6,337.8 400.6,338.9 401.6,339.8 402.6,340.6 403.6,341.3 404.6,342.0 405.6,342.6 406.6,343.1 407.6,343.6 408.6,344.0 409.6,344.4 410.6,344.8 411.6,345.1 412.6,345.3 413.6,345.6 414.6,345.8 415.6,346.0 416.6,346.1 417.6,346.3 418.6,346.4 419.6,346.5 420.6,346.6 421.6,346.7 422.6,346.8 423.6,346.9 424.6,346.9 425.6,347.0 426.6,347.1 427.6,347.1 428.6,347.2 429.6,347.2 430.6,347.2 431.6,347.3 432.6,347.3 433.6,347.3 434.6,347.4 435.6,347.4 436.6,347.4 437.6,347.4 438.6,347.5 439.6,347.5 440.6,347.5 441.6,347.5 442.6,347.5 443.6,347.5 444.6,347.6 445.6,347.6 446.6,347.6 447.6,347.6 448.6,347.6 449.6,347.6 450.6,347.6 451.6,347.6 452.6,347.7 453.6,347.7 454.6,347.7 455.6,347.7 456.6,347.7 457.6,347.7 458.6,347.7 459.6,347.7 460.6,347.7 461.6,347.7 462.6,347.8 463.6,347.8 464.6,347.8 465.6,347.8 466.6,347.8 467.6,347.8 468.6,347.8 469.6,347.8 470.6,347.8 471.6,347.8 472.6,347.8 473.6,347.8 474.6,347.8 475.6,347.8 476.6,347.9 477.6,347.9 478.6,347.9 479.6,347.9 480.6,347.9 481.6,347.9 482.6,347.9 483.6,347.9 484.6,347.9 485.6,347.9 486.6,347.9 487.6,347.9 488.6,347.9 489.6,347.9 490.6,347.9 491.6,347.9 492.6,347.9 493.6,347.9 494.6,347.9 495.6,347.9 496.6,347.9 497.6,348.0 498.6,348.0 499.6,348.0 500.6,348.0 501.6,348.0 502.6,348.0 503.6,348.0 504.6,348.0 505.6,348.0 506.6,348.0 507.6,348.0 508.6,348.0 509.6,348.0" fill="none" stroke="#8cae3a" stroke-width="1.5"/>
<polyline points="134.6,313.7 135.6,313.7 136.6,313.7 137.6,313.6 138.6,313.6 139.6,313.6 140.6,313.6 141.6,313.6 142.6,313.6 143.6,313.6 144.6,313.6 145.6,313.6 146.6,313.6 147.6,313.6 148.6,313.6 149.6,313.6 150.6,313.6 151.6,313.6 152.6,313.6 153.6,313.6 154.6,313.6 155.6,313.6 156.6,313.6 157.6,313.6 158.6,313.6 159.6,313.6 160.6,313.6 161.6,313.6 162.6,313.6 163.6,313.6 164.6,313.6 165.6,313.6 166.6,313.6 167.6,313.6 168.6,313.6 169.6,313.6 170.6,313.6 171.6,313.6 172.6,313.6 173.6,313.6 174.6,313.6 175.6,313.6 176.6,313.6 177.6,313.6 178.6,313.6 179.6,313.6 180.6,313.6 181.6,313.6 182.6,313.6 183.6,313.6 184.6,313.6 185.6,313.6 186.6,313.6 187.6,313.6 188.6,313.7 189.6,313.7 190.6,313.7 191.6,313.7 192.6,313.7 193.6,313.7 194.6,313.7 195.6,313.7 196.6,313.7 197.6,313.7 198.6,313.7 199.6,313.7 200.6,313.8 201.6,313.8 202.6,313.8 203.6,313.8 204.6,313.8 205.6,313.8 206.6,313.8 207.6,313.9 208.6,313.9 209.6,313.9 210.6,313.9 211.6,313.9 212.6,313.9 213.6,313.9 214.6,314.0 215.6,314.0 216.6,314.0 217.6,314.0 218.6,314.0 219.6,314.0 220.6,314.0 221.6,314.1 222.6,314.1 223.6,314.1 224.6,314.1 225.6,314.1 226.6,314.1 227.6,314.1 228.6,314.1 229.6,314.1 230.6,314.2 231.6,314.2 232.6,314.2 233.6,314.2 234.6,314.2 235.6,314.2 236.6,314.2 237.6,314.2 238.6,314.2 239.6,314.2 240.6,314.2 241.6,314.2 242.6,314.2 243.6,314.2 244.6,314.2 245.6,314.2 246.6,314.2 247.6,314.1 248.6,314.1 249.6,314.1 250.6,314.0 251.6,314.0 252.6,313.9 253.6,313.8 254.6,313.7 255.6,313.6 256.6,313.5 257.6,313.3 258.6,313.1 259.6,312.9 260.6,312.7 261.6,312.4 262.6,312.0 263.6,311.7 264.6,311.2 265.6,310.7 266.6,310.1 267.6,309.5 268.6,308.7 269.6,307.9 270.6,307.0 271.6,305.9 272.6,304.7 273.6,303.5 274.6,302.0 275.6,300.4 276.6,298.7 277.6,296.8 278.6,294.7 279.6,292.4 280.6,290.0 281.6,287.3 282.6,284.4 283.6,281.4 284.6,278.1 285.6,274.5 286.6,270.8 287.6,266.8 288.6,262.6 289.6,258.2 290.6,253.6 291.6,248.7 292.6,243.7 293.6,238.5 294.6,233.1 295.6,227.6 296.6,222.0 297.6,216.2 298.6,210.4 299.6,204.5 300.6,198.5 301.6,192.6 302.6,186.8 303.6,181.0 304.6,175.3 305.6,169.7 306.6,164.3 307.6,159.2 308.6,154.3 309.6,149.7 310.6,145.4 311.6,141.5 312.6,138.0 313.6,134.9 314.6,132.3 315.6,130.2 316.6,128.5 317.6,127.4 318.6,126.8 319.6,126.7 320.6,127.2 321.6,128.2 322.6,129.7 323.6,131.7 324.6,134.3 325.6,137.3 326.6,140.8 327.6,144.8 328.6,149.1 329.6,153.8 330.6,158.8 331.6,164.2 332.6,169.8 333.6,175.6 334.6,181.7 335.6,187.8 336.6,194.1 337.6,200.5 338.6,206.9 339.6,213.4 340.6,219.8 341.6,226.1 342.6,232.4 343.6,238.6 344.6,244.6 345.6,250.5 346.6,256.3 347.6,261.8 348.6,267.2 349.6,272.3 350.6,277.2 351.6,281.9 352.6,286.4 353.6,290.6 354.6,294.7 355.6,298.4 356.6,302.0 357.6,305.3 358.6,308.4 359.6,311.3 360.6,314.1 361.6,316.6 362.6,318.9 363.6,321.0 364.6,323.0 365.6,324.9 366.6,326.5 367.6,328.1 368.6,329.5 369.6,330.8 370.6,332.0 371.6,333.1 372.6,334.1 373.6,335.0 374.6,335.9 375.6,336.7 376.6,337.4 377.6,338.0 378.6,338.6 379.6,339.2 380.6,339.7 381.6,340.2 382.6,340.6 383.6,341.1 384.6,341.4 385.6,341.8 386.6,342.2 387.6,342.5 388.6,342.8 389.6,343.1 390.6,343.3 391.6,343.6 392.6,343.9 393.6,344.1 394.6,344.3 395.6,344.5 396.6,344.7 397.6,344.9 398.6,345.1 399.6,345.3 400.6,345.4 401.6,345.6 402.6,345.7 403.6,345.9 404.6,346.0 405.6,346.1 406.6,346.3 407.6,346.4 408.6,346.5 409.6,346.6 410.6,346.7 411.6,346.7 412.6,346.8 413.6,346.9 414.6,347.0 415.6,347.0 416.6,347.1 417.6,347.2 418.6,347.2 419.6,347.3 420.6,347.3 421.6,347.3 422.6,347.4 423.6,347.4 424.6,347.5 425.6,347.5 426.6,347.5 427.6,347.5 428.6,347.6 429.6,347.6 430.6,347.6 431.6,347.6 432.6,347.6 433.6,347.7 434.6,347.7 435.6,347.7 436.6,347.7 437.6,347.7 438.6,347.7 439.6,347.7 440.6,347.8 441.6,347.8 442.6,347.8 443.6,347.8 444.6,347.8 445.6,347.8 446.6,347.8 447.6,347.8 448.6,347.8 449.6,347.8 450.6,347.8 451.6,347.8 452.6,347.9 453.6,347.9 454.6,347.9 455.6,347.9 456.6,347.9 457.6,347.9 458.6,347.9 459.6,347.9 460.6,347.9 461.6,347.9 462.6,347.9 463.6,347.9 464.6,347.9 465.6,347.9 466.6,347.9 467.6,347.9 468.6,347.9 469.6,347.9 470.6,347.9 471.6,347.9 472.6,348.0 473.6,348.0 474.6,348.0 475.6,348.0 476.6,348.0 477.6,348.0 478.6,348.0 479.6,348.0 480.6,348.0 481.6,348.0 482.6,348.0 483.6,348.0 484.6,348.0 485.6,348.0 486.6,348.0 487.6,348.0 488.6,348.0 489.6,348.0 490.6,348.0 491.6,348.0 492.6,348.0 493.6,348.0 494.6,348.0 495.6,348.0 496.6,348.0 497.6,348.0 498.6,348.0 499.6,348.0 500.6,348.0 501.6,348.0 502.6,348.0 503.6,348.0 504.6,348.0 505.6,348.1 506.6,348.1 507.6,348.1 508.6,348.1 509.6,348.1" fill="none" stroke="#3b78b9" stroke-width="1.5"/>
<polyline points="134.6,313.8 135.6,313.8 136.6,313.8 137.6,313.7 138.6,313.7 139.6,313.7 140.6,313.7 141.6,313.7 142.6,313.7 143.6,313.7 144.6,313.7 145.6,313.7 146.6,313.7 147.6,313.7 148.6,313.7 149.6,313.7 150.6,313.7 151.6,313.7 152.6,313.7 153.6,313.7 154.6,313.7 155.6,313.7 156.6,313.7 157.6,313.7 158.6,313.7 159.6,313.7 160.6,313.7 161.6,313.7 162.6,313.7 163.6,313.7 164.6,313.7 165.6,313.7 166.6,313.7 167.6,313.7 168.6,313.7 169.6,313.7 170.6,313.7 171.6,313.7 172.6,313.7 173.6,313.7 174.6,313.7 175.6,313.8 176.6,313.8 177.6,313.8 178.6,313.8 179.6,313.8 180.6,313.8 181.6,313.8 182.6,313.8 183.6,313.8 184.6,313.8 185.6,313.8 186.6,313.8 187.6,313.8 188.6,313.8 189.6,313.8 190.6,313.8 191.6,313.8 192.6,313.8 193.6,313.8 194.6,313.8 195.6,313.8 196.6,313.8 197.6,313.8 198.6,313.8 199.6,313.8 200.6,313.8 201.6,313.8 202.6,313.8 203.6,313.8 204.6,313.7 205.6,313.7 206.6,313.7 207.6,313.7 208.6,313.6 209.6,313.5 210.6,313.5 211.6,313.4 212.6,313.3 213.6,313.2 214.6,313.1 215.6,312.9 216.6,312.8 217.6,312.6 218.6,312.4 219.6,312.2 220.6,311.9 221.6,311.7 222.6,311.4 223.6,311.0 224.6,310.6 225.6,310.2 226.6,309.8 227.6,309.3 228.6,308.8 229.6,308.2 230.6,307.6 231.6,307.0 232.6,306.3 233.6,305.5 234.6,304.8 235.6,303.9 236.6,303.1 237.6,302.2 238.6,301.3 239.6,300.3 240.6,299.3 241.6,298.3 242.6,297.2 243.6,296.2 244.6,295.1 245.6,294.0 246.6,293.0 247.6,291.9 248.6,290.8 249.6,289.8 250.6,288.8 251.6,287.8 252.6,286.8 253.6,285.9 254.6,285.1 255.6,284.3 256.6,283.6 257.6,283.0 258.6,282.4 259.6,281.9 260.6,281.5 261.6,281.2 262.6,281.0 263.6,280.9 264.6,280.9 265.6,281.0 266.6,281.2 267.6,281.5 268.6,281.9 269.6,282.4 270.6,283.0 271.6,283.6 272.6,284.3 273.6,285.2 274.6,286.0 275.6,287.0 276.6,288.0 277.6,289.0 278.6,290.1 279.6,291.2 280.6,292.3 281.6,293.5 282.6,294.6 283.6,295.8 284.6,297.0 285.6,298.2 286.6,299.3 287.6,300.5 288.6,301.6 289.6,302.7 290.6,303.8 291.6,304.8 292.6,305.9 293.6,306.9 294.6,307.8 295.6,308.7 296.6,309.6 297.6,310.5 298.6,311.3 299.6,312.1 300.6,312.8 301.6,313.5 302.6,314.2 303.6,314.8 304.6,315.4 305.6,316.0 306.6,316.6 307.6,317.1 308.6,317.7 309.6,318.2 310.6,318.7 311.6,319.1 312.6,319.6 313.6,320.0 314.6,320.4 315.6,320.9 316.6,321.3 317.6,321.7 318.6,322.1 319.6,322.4 320.6,322.8 321.6,323.2 322.6,323.6 323.6,323.9 324.6,324.3 325.6,324.7 326.6,325.0 327.6,325.4 328.6,325.8 329.6,326.1 330.6,326.5 331.6,326.9 332.6,327.2 333.6,327.6 334.6,328.0 335.6,328.3 336.6,328.7 337.6,329.0 338.6,329.4 339.6,329.8 340.6,330.1 341.6,330.5 342.6,330.8 343.6,331.2 344.6,331.5 345.6,331.9 346.6,332.2 347.6,332.6 348.6,332.9 349.6,333.3 350.6,333.6 351.6,333.9 352.6,334.3 353.6,334.6 354.6,334.9 355.6,335.2 356.6,335.6 357.6,335.9 358.6,336.2 359.6,336.5 360.6,336.8 361.6,337.1 362.6,337.4 363.6,337.7 364.6,338.0 365.6,338.3 366.6,338.6 367.6,338.8 368.6,339.1 369.6,339.4 370.6,339.7 371.6,339.9 372.6,340.2 373.6,340.5 374.6,340.7 375.6,341.0 376.6,341.2 377.6,341.5 378.6,341.7 379.6,342.0 380.6,342.2 381.6,342.5 382.6,342.7 383.6,343.0 384.6,343.2 385.6,343.4 386.6,343.6 387.6,343.8 388.6,344.1 389.6,344.3 390.6,344.5 391.6,344.7 392.6,344.8 393.6,345.0 394.6,345.2 395.6,345.4 396.6,345.6 397.6,345.7 398.6,345.9 399.6,346.0 400.6,346.2 401.6,346.3 402.6,346.4 403.6,346.5 404.6,346.6 405.6,346.8 406.6,346.9 407.6,347.0 408.6,347.0 409.6,347.1 410.6,347.2 411.6,347.3 412.6,347.4 413.6,347.4 414.6,347.5 415.6,347.5 416.6,347.6 417.6,347.6 418.6,347.7 419.6,347.7 420.6,347.8 421.6,347.8 422.6,347.8 423.6,347.8 424.6,347.9 425.6,347.9 426.6,347.9 427.6,347.9 428.6,348.0 429.6,348.0 430.6,348.0 431.6,348.0 432.6,348.0 433.6,348.0 434.6,348.0 435.6,348.0 436.6,348.0 437.6,348.0 438.6,348.1 439.6,348.1 440.6,348.1 441.6,348.1 442.6,348.1 443.6,348.1 444.6,348.1 445.6,348.1 446.6,348.1 447.6,348.1 448.6,348.1 449.6,348.1 450.6,348.1 451.6,348.1 452.6,348.1 453.6,348.1 454.6,348.1 455.6,348.1 456.6,348.1 457.6,348.1 458.6,348.1 459.6,348.1 460.6,348.1 461.6,348.1 462.6,348.1 463.6,348.1 464.6,348.1 465.6,348.1 466.6,348.1 467.6,348.1 468.6,348.1 469.6,348.1 470.6,348.1 471.6,348.1 472.6,348.1 473.6,348.1 474.6,348.1 475.6,348.1 476.6,348.2 477.6,348.2 478.6,348.2 479.6,348.2 480.6,348.2 481.6,348.2 482.6,348.2 483.6,348.2 484.6,348.2 485.6,348.2 486.6,348.2 487.6,348.2 488.6,348.2 489.6,348.2 490.6,348.2 491.6,348.2 492.6,348.2 493.6,348.2 494.6,348.2 495.6,348.2 496.6,348.2 497.6,348.2 498.6,348.2 499.6,348.2 500.6,348.2 501.6,348.2 502.6,348.2 503.6,348.2 504.6,348.2 505.6,348.2 506.6,348.2 507.6,348.2 508.6,348.2 509.6,348.2" fill="none" stroke="#7f5fa6" stroke-width="1.5"/>
<polyline points="134.6,313.7 135.6,313.7 136.6,313.7 137.6,313.7 138.6,313.7 139.6,313.7 140.6,313.7 141.6,313.7 142.6,313.7 143.6,313.7 144.6,313.7 145.6,313.7 146.6,313.7 147.6,313.7 148.6,313.6 149.6,313.6 150.6,313.6 151.6,313.6 152.6,313.6 153.6,313.6 154.6,313.5 155.6,313.5 156.6,313.5 157.6,313.4 158.6,313.4 159.6,313.3 160.6,313.3 161.6,313.2 162.6,313.1 163.6,313.0 164.6,313.0 165.6,312.9 166.6,312.7 167.6,312.6 168.6,312.5 169.6,312.3 170.6,312.2 171.6,312.0 172.6,311.8 173.6,311.6 174.6,311.4 175.6,311.1 176.6,310.8 177.6,310.5 178.6,310.2 179.6,309.9 180.6,309.6 181.6,309.2 182.6,308.8 183.6,308.4 184.6,308.0 185.6,307.5 186.6,307.0 187.6,306.6 188.6,306.1 189.6,305.6 190.6,305.0 191.6,304.5 192.6,304.0 193.6,303.4 194.6,302.9 195.6,302.3 196.6,301.8 197.6,301.3 198.6,300.8 199.6,300.3 200.6,299.8 201.6,299.3 202.6,298.8 203.6,298.4 204.6,298.0 205.6,297.7 206.6,297.4 207.6,297.1 208.6,296.9 209.6,296.7 210.6,296.5 211.6,296.4 212.6,296.4 213.6,296.4 214.6,296.4 215.6,296.5 216.6,296.7 217.6,296.9 218.6,297.1 219.6,297.4 220.6,297.7 221.6,298.0 222.6,298.4 223.6,298.9 224.6,299.3 225.6,299.8 226.6,300.3 227.6,300.9 228.6,301.4 229.6,302.0 230.6,302.5 231.6,303.1 232.6,303.7 233.6,304.3 234.6,304.8 235.6,305.4 236.6,306.0 237.6,306.5 238.6,307.1 239.6,307.6 240.6,308.1 241.6,308.6 242.6,309.1 243.6,309.6 244.6,310.0 245.6,310.5 246.6,310.9 247.6,311.3 248.6,311.6 249.6,312.0 250.6,312.3 251.6,312.6 252.6,312.9 253.6,313.2 254.6,313.4 255.6,313.7 256.6,313.9 257.6,314.1 258.6,314.3 259.6,314.5 260.6,314.7 261.6,314.8 262.6,315.0 263.6,315.1 264.6,315.2 265.6,315.3 266.6,315.5 267.6,315.6 268.6,315.7 269.6,315.8 270.6,315.9 271.6,315.9 272.6,316.0 273.6,316.1 274.6,316.2 275.6,316.3 276.6,316.3 277.6,316.4 278.6,316.5 279.6,316.5 280.6,316.6 281.6,316.7 282.6,316.8 283.6,316.8 284.6,316.9 285.6,317.0 286.6,317.1 287.6,317.1 288.6,317.2 289.6,317.3 290.6,317.4 291.6,317.5 292.6,317.6 293.6,317.7 294.6,317.8 295.6,318.0 296.6,318.1 297.6,318.2 298.6,318.4 299.6,318.5 300.6,318.7 301.6,318.8 302.6,319.0 303.6,319.2 304.6,319.4 305.6,319.6 306.6,319.8 307.6,320.0 308.6,320.2 309.6,320.4 310.6,320.7 311.6,320.9 312.6,321.2 313.6,321.4 314.6,321.7 315.6,322.0 316.6,322.3 317.6,322.5 318.6,322.8 319.6,323.1 320.6,323.4 321.6,323.8 322.6,324.1 323.6,324.4 324.6,324.7 325.6,325.0 326.6,325.4 327.6,325.7 328.6,326.0 329.6,326.4 330.6,326.7 331.6,327.1 332.6,327.4 333.6,327.8 334.6,328.1 335.6,328.5 336.6,328.8 337.6,329.2 338.6,329.5 339.6,329.9 340.6,330.2 341.6,330.6 342.6,330.9 343.6,331.3 344.6,331.6 345.6,332.0 346.6,332.3 347.6,332.7 348.6,333.0 349.6,333.3 350.6,333.7 351.6,334.0 352.6,334.3 353.6,334.7 354.6,335.0 355.6,335.3 356.6,335.6 357.6,335.9 358.6,336.2 359.6,336.6 360.6,336.9 361.6,337.2 362.6,337.5 363.6,337.7 364.6,338.0 365.6,338.3 366.6,338.6 367.6,338.9 368.6,339.2 369.6,339.4 370.6,339.7 371.6,340.0 372.6,340.3 373.6,340.5 374.6,340.8 375.6,341.0 376.6,341.3 377.6,341.5 378.6,341.8 379.6,342.0 380.6,342.3 381.6,342.5 382.6,342.8 383.6,343.0 384.6,343.2 385.6,343.4 386.6,343.7 387.6,343.9 388.6,344.1 389.6,344.3 390.6,344.5 391.6,344.7 392.6,344.9 393.6,345.1 394.6,345.2 395.6,345.4 396.6,345.6 397.6,345.7 398.6,345.9 399.6,346.0 400.6,346.2 401.6,346.3 402.6,346.4 403.6,346.6 404.6,346.7 405.6,346.8 406.6,346.9 407.6,347.0 408.6,347.1 409.6,347.2 410.6,347.2 411.6,347.3 412.6,347.4 413.6,347.4 414.6,347.5 415.6,347.6 416.6,347.6 417.6,347.7 418.6,347.7 419.6,347.7 420.6,347.8 421.6,347.8 422.6,347.8 423.6,347.9 424.6,347.9 425.6,347.9 426.6,347.9 427.6,348.0 428.6,348.0 429.6,348.0 430.6,348.0 431.6,348.0 432.6,348.0 433.6,348.0 434.6,348.0 435.6,348.1 436.6,348.1 437.6,348.1 438.6,348.1 439.6,348.1 440.6,348.1 441.6,348.1 442.6,348.1 443.6,348.1 444.6,348.1 445.6,348.1 446.6,348.1 447.6,348.1 448.6,348.1 449.6,348.1 450.6,348.1 451.6,348.1 452.6,348.1 453.6,348.1 454.6,348.1 455.6,348.1 456.6,348.1 457.6,348.1 458.6,348.1 459.6,348.1 460.6,348.1 461.6,348.1 462.6,348.1 463.6,348.1 464.6,348.1 465.6,348.1 466.6,348.2 467.6,348.2 468.6,348.2 469.6,348.2 470.6,348.2 471.6,348.2 472.6,348.2 473.6,348.2 474.6,348.2 475.6,348.2 476.6,348.2 477.6,348.2 478.6,348.2 479.6,348.2 480.6,348.2 481.6,348.2 482.6,348.2 483.6,348.2 484.6,348.2 485.6,348.2 486.6,348.2 487.6,348.2 488.6,348.2 489.6,348.2 490.6,348.2 491.6,348.2 492.6,348.2 493.6,348.2 494.6,348.2 495.6,348.2 496.6,348.2 497.6,348.2 498.6,348.2 499.6,348.2 500.6,348.2 501.6,348.2 502.6,348.2 503.6,348.2 504.6,348.2 505.6,348.2 506.6,348.2 507.6,348.2 508.6,348.2 509.6,348.2" fill="none" stroke="#e8a020" stroke-width="1.5"/>
<polyline points="134.6,313.3 135.6,313.3 136.6,313.3 137.6,313.3 138.6,313.3 139.6,313.3 140.6,313.3 141.6,313.3 142.6,313.3 143.6,313.3 144.6,313.3 145.6,313.3 146.6,313.2 147.6,313.2 148.6,313.2 149.6,313.2 150.6,313.2 151.6,313.1 152.6,313.1 153.6,313.1 154.6,313.1 155.6,313.0 156.6,313.0 157.6,312.9 158.6,312.9 159.6,312.8 160.6,312.8 161.6,312.7 162.6,312.6 163.6,312.5 164.6,312.4 165.6,312.3 166.6,312.2 167.6,312.1 168.6,311.9 169.6,311.8 170.6,311.6 171.6,311.4 172.6,311.2 173.6,311.0 174.6,310.7 175.6,310.5 176.6,310.2 177.6,309.9 178.6,309.6 179.6,309.3 180.6,308.9 181.6,308.5 182.6,308.1 183.6,307.7 184.6,307.3 185.6,306.8 186.6,306.3 187.6,305.8 188.6,305.3 189.6,304.8 190.6,304.3 191.6,303.7 192.6,303.2 193.6,302.6 194.6,302.0 195.6,301.5 196.6,300.9 197.6,300.4 198.6,299.8 199.6,299.3 200.6,298.8 201.6,298.2 202.6,297.8 203.6,297.3 204.6,296.9 205.6,296.4 206.6,296.1 207.6,295.7 208.6,295.4 209.6,295.1 210.6,294.9 211.6,294.7 212.6,294.5 213.6,294.3 214.6,294.2 215.6,294.2 216.6,294.1 217.6,294.1 218.6,294.1 219.6,294.1 220.6,294.1 221.6,294.2 222.6,294.2 223.6,294.3 224.6,294.3 225.6,294.3 226.6,294.4 227.6,294.4 228.6,294.3 229.6,294.3 230.6,294.2 231.6,294.1 232.6,293.9 233.6,293.7 234.6,293.5 235.6,293.2 236.6,292.9 237.6,292.5 238.6,292.0 239.6,291.5 240.6,291.0 241.6,290.4 242.6,289.8 243.6,289.1 244.6,288.4 245.6,287.7 246.6,286.9 247.6,286.1 248.6,285.3 249.6,284.5 250.6,283.7 251.6,282.9 252.6,282.1 253.6,281.3 254.6,280.5 255.6,279.7 256.6,279.0 257.6,278.3 258.6,277.7 259.6,277.0 260.6,276.5 261.6,275.9 262.6,275.4 263.6,275.0 264.6,274.5 265.6,274.1 266.6,273.7 267.6,273.3 268.6,273.0 269.6,272.6 270.6,272.2 271.6,271.7 272.6,271.2 273.6,270.7 274.6,270.0 275.6,269.3 276.6,268.5 277.6,267.5 278.6,266.4 279.6,265.1 280.6,263.6 281.6,261.9 282.6,260.0 283.6,257.9 284.6,255.6 285.6,253.0 286.6,250.1 287.6,246.9 288.6,243.5 289.6,239.8 290.6,235.8 291.6,231.5 292.6,227.0 293.6,222.1 294.6,217.0 295.6,211.6 296.6,206.0 297.6,200.1 298.6,194.0 299.6,187.7 300.6,181.2 301.6,174.6 302.6,167.8 303.6,160.9 304.6,153.9 305.6,146.9 306.6,139.8 307.6,132.7 308.6,125.7 309.6,118.7 310.6,111.8 311.6,105.0 312.6,98.4 313.6,91.9 314.6,85.6 315.6,79.6 316.6,73.7 317.6,68.2 318.6,62.8 319.6,57.8 320.6,53.1 321.6,48.6 322.6,44.5 323.6,40.7 324.6,37.1 325.6,33.9 326.6,31.0 327.6,28.3 328.6,26.0 329.6,23.9 330.6,22.2 331.6,20.6 332.6,19.4 333.6,18.4 334.6,17.7 335.6,17.2 336.6,16.9 337.6,16.9 338.6,17.1 339.6,17.6 340.6,18.2 341.6,19.1 342.6,20.2 343.6,21.6 344.6,23.1 345.6,24.8 346.6,26.8 347.6,28.9 348.6,31.2 349.6,33.7 350.6,36.3 351.6,39.1 352.6,42.0 353.6,45.0 354.6,48.1 355.6,51.3 356.6,54.5 357.6,57.8 358.6,61.1 359.6,64.4 360.6,67.6 361.6,70.9 362.6,74.1 363.6,77.3 364.6,80.4 365.6,83.5 366.6,86.5 367.6,89.4 368.6,92.3 369.6,95.1 370.6,97.9 371.6,100.6 372.6,103.4 373.6,106.1 374.6,108.8 375.6,111.5 376.6,114.3 377.6,117.2 378.6,120.1 379.6,123.1 380.6,126.3 381.6,129.5 382.6,132.9 383.6,136.5 384.6,140.3 385.6,144.2 386.6,148.3 387.6,152.6 388.6,157.1 389.6,161.8 390.6,166.6 391.6,171.6 392.6,176.8 393.6,182.1 394.6,187.6 395.6,193.2 396.6,198.8 397.6,204.6 398.6,210.4 399.6,216.2 400.6,222.1 401.6,227.9 402.6,233.7 403.6,239.5 404.6,245.2 405.6,250.8 406.6,256.3 407.6,261.7 408.6,266.9 409.6,272.0 410.6,277.0 411.6,281.7 412.6,286.3 413.6,290.7 414.6,294.8 415.6,298.8 416.6,302.6 417.6,306.2 418.6,309.5 419.6,312.7 420.6,315.7 421.6,318.5 422.6,321.0 423.6,323.4 424.6,325.7 425.6,327.7 426.6,329.6 427.6,331.3 428.6,332.9 429.6,334.4 430.6,335.7 431.6,336.9 432.6,338.0 433.6,338.9 434.6,339.8 435.6,340.6 436.6,341.3 437.6,342.0 438.6,342.5 439.6,343.0 440.6,343.5 441.6,343.9 442.6,344.2 443.6,344.6 444.6,344.8 445.6,345.1 446.6,345.3 447.6,345.5 448.6,345.7 449.6,345.8 450.6,345.9 451.6,346.1 452.6,346.2 453.6,346.3 454.6,346.3 455.6,346.4 456.6,346.5 457.6,346.6 458.6,346.6 459.6,346.7 460.6,346.7 461.6,346.7 462.6,346.8 463.6,346.8 464.6,346.9 465.6,346.9 466.6,346.9 467.6,346.9 468.6,347.0 469.6,347.0 470.6,347.0 471.6,347.0 472.6,347.1 473.6,347.1 474.6,347.1 475.6,347.1 476.6,347.1 477.6,347.2 478.6,347.2 479.6,347.2 480.6,347.2 481.6,347.2 482.6,347.2 483.6,347.3 484.6,347.3 485.6,347.3 486.6,347.3 487.6,347.3 488.6,347.3 489.6,347.4 490.6,347.4 491.6,347.4 492.6,347.4 493.6,347.4 494.6,347.4 495.6,347.4 496.6,347.4 497.6,347.5 498.6,347.5 499.6,347.5 500.6,347.5 501.6,347.5 502.6,347.5 503.6,347.5 504.6,347.5 505.6,347.5 506.6,347.5 507.6,347.6 508.6,347.6 509.6,347.6" fill="none" stroke="#c010c0" stroke-width="1.3"/>
<polyline points="134.6,313.8 135.6,313.8 136.6,313.8 137.6,313.8 138.6,313.8 139.6,313.8 140.6,313.8 141.6,313.8 142.6,313.8 143.6,313.8 144.6,313.8 145.6,313.8 146.6,313.8 147.6,313.8 148.6,313.8 149.6,313.8 150.6,313.8 151.6,313.8 152.6,313.8 153.6,313.8 154.6,313.8 155.6,313.8 156.6,313.8 157.6,313.8 158.6,313.8 159.6,313.8 160.6,313.8 161.6,313.8 162.6,313.8 163.6,313.8 164.6,313.8 165.6,313.8 166.6,313.8 167.6,313.8 168.6,313.8 169.6,313.8 170.6,313.8 171.6,313.8 172.6,313.8 173.6,313.8 174.6,313.9 175.6,313.9 176.6,313.9 177.6,313.9 178.6,313.9 179.6,313.9 180.6,313.9 181.6,313.9 182.6,313.9 183.6,313.9 184.6,313.9 185.6,313.9 186.6,313.9 187.6,313.9 188.6,313.9 189.6,314.0 190.6,314.0 191.6,314.0 192.6,314.0 193.6,314.0 194.6,314.0 195.6,314.0 196.6,314.0 197.6,314.1 198.6,314.1 199.6,314.1 200.6,314.1 201.6,314.1 202.6,314.1 203.6,314.2 204.6,314.2 205.6,314.2 206.6,314.2 207.6,314.2 208.6,314.3 209.6,314.3 210.6,314.3 211.6,314.3 212.6,314.4 213.6,314.4 214.6,314.4 215.6,314.4 216.6,314.4 217.6,314.5 218.6,314.5 219.6,314.5 220.6,314.5 221.6,314.6 222.6,314.6 223.6,314.6 224.6,314.6 225.6,314.6 226.6,314.7 227.6,314.7 228.6,314.7 229.6,314.7 230.6,314.8 231.6,314.8 232.6,314.8 233.6,314.8 234.6,314.9 235.6,314.9 236.6,314.9 237.6,314.9 238.6,315.0 239.6,315.0 240.6,315.0 241.6,315.0 242.6,315.1 243.6,315.1 244.6,315.1 245.6,315.2 246.6,315.2 247.6,315.2 248.6,315.3 249.6,315.3 250.6,315.3 251.6,315.4 252.6,315.4 253.6,315.4 254.6,315.5 255.6,315.5 256.6,315.6 257.6,315.6 258.6,315.6 259.6,315.7 260.6,315.7 261.6,315.8 262.6,315.8 263.6,315.9 264.6,315.9 265.6,316.0 266.6,316.0 267.6,316.1 268.6,316.1 269.6,316.2 270.6,316.2 271.6,316.3 272.6,316.3 273.6,316.4 274.6,316.4 275.6,316.5 276.6,316.5 277.6,316.6 278.6,316.6 279.6,316.7 280.6,316.7 281.6,316.8 282.6,316.9 283.6,316.9 284.6,317.0 285.6,317.1 286.6,317.2 287.6,317.2 288.6,317.3 289.6,317.4 290.6,317.5 291.6,317.6 292.6,317.7 293.6,317.8 294.6,317.9 295.6,318.0 296.6,318.2 297.6,318.3 298.6,318.4 299.6,318.6 300.6,318.7 301.6,318.9 302.6,319.1 303.6,319.3 304.6,319.4 305.6,319.6 306.6,319.8 307.6,320.0 308.6,320.3 309.6,320.5 310.6,320.7 311.6,321.0 312.6,321.2 313.6,321.5 314.6,321.7 315.6,322.0 316.6,322.3 317.6,322.6 318.6,322.9 319.6,323.2 320.6,323.5 321.6,323.8 322.6,324.1 323.6,324.4 324.6,324.7 325.6,325.1 326.6,325.4 327.6,325.7 328.6,326.1 329.6,326.4 330.6,326.8 331.6,327.1 332.6,327.5 333.6,327.8 334.6,328.2 335.6,328.5 336.6,328.9 337.6,329.2 338.6,329.6 339.6,329.9 340.6,330.3 341.6,330.6 342.6,331.0 343.6,331.3 344.6,331.7 345.6,332.0 346.6,332.3 347.6,332.7 348.6,333.0 349.6,333.4 350.6,333.7 351.6,334.0 352.6,334.4 353.6,334.7 354.6,335.0 355.6,335.3 356.6,335.6 357.6,336.0 358.6,336.3 359.6,336.6 360.6,336.9 361.6,337.2 362.6,337.5 363.6,337.8 364.6,338.1 365.6,338.3 366.6,338.6 367.6,338.9 368.6,339.2 369.6,339.5 370.6,339.7 371.6,340.0 372.6,340.3 373.6,340.5 374.6,340.8 375.6,341.1 376.6,341.3 377.6,341.6 378.6,341.8 379.6,342.1 380.6,342.3 381.6,342.5 382.6,342.8 383.6,343.0 384.6,343.2 385.6,343.5 386.6,343.7 387.6,343.9 388.6,344.1 389.6,344.3 390.6,344.5 391.6,344.7 392.6,344.9 393.6,345.1 394.6,345.3 395.6,345.4 396.6,345.6 397.6,345.8 398.6,345.9 399.6,346.1 400.6,346.2 401.6,346.3 402.6,346.5 403.6,346.6 404.6,346.7 405.6,346.8 406.6,346.9 407.6,347.0 408.6,347.1 409.6,347.2 410.6,347.3 411.6,347.3 412.6,347.4 413.6,347.5 414.6,347.5 415.6,347.6 416.6,347.6 417.6,347.7 418.6,347.7 419.6,347.8 420.6,347.8 421.6,347.8 422.6,347.9 423.6,347.9 424.6,347.9 425.6,347.9 426.6,347.9 427.6,348.0 428.6,348.0 429.6,348.0 430.6,348.0 431.6,348.0 432.6,348.0 433.6,348.0 434.6,348.1 435.6,348.1 436.6,348.1 437.6,348.1 438.6,348.1 439.6,348.1 440.6,348.1 441.6,348.1 442.6,348.1 443.6,348.1 444.6,348.1 445.6,348.1 446.6,348.1 447.6,348.1 448.6,348.1 449.6,348.1 450.6,348.1 451.6,348.1 452.6,348.1 453.6,348.1 454.6,348.1 455.6,348.1 456.6,348.1 457.6,348.1 458.6,348.1 459.6,348.1 460.6,348.1 461.6,348.2 462.6,348.2 463.6,348.2 464.6,348.2 465.6,348.2 466.6,348.2 467.6,348.2 468.6,348.2 469.6,348.2 470.6,348.2 471.6,348.2 472.6,348.2 473.6,348.2 474.6,348.2 475.6,348.2 476.6,348.2 477.6,348.2 478.6,348.2 479.6,348.2 480.6,348.2 481.6,348.2 482.6,348.2 483.6,348.2 484.6,348.2 485.6,348.2 486.6,348.2 487.6,348.2 488.6,348.2 489.6,348.2 490.6,348.2 491.6,348.2 492.6,348.2 493.6,348.2 494.6,348.2 495.6,348.2 496.6,348.2 497.6,348.2 498.6,348.2 499.6,348.2 500.6,348.2 501.6,348.2 502.6,348.2 503.6,348.2 504.6,348.2 505.6,348.2 506.6,348.2 507.6,348.2 508.6,348.2 509.6,348.2" fill="none" stroke="#1414b4" stroke-width="1.60"/>
<polyline points="24.0,307.8 26.5,304.4 29.0,304.4 31.6,300.7 34.1,306.1 36.6,305.9 39.1,305.9 41.7,308.0 44.2,308.6 46.7,306.2 49.2,306.9 51.7,308.1 54.3,310.7 56.8,310.9 59.3,307.7 61.8,308.5 64.4,312.4 66.9,314.4 69.4,311.8 71.9,311.0 74.5,314.8 77.0,312.5 79.5,314.9 82.0,316.8 84.5,315.5 87.1,314.9 89.6,316.5 92.1,314.3 94.6,315.6 97.2,314.9 99.7,315.7 102.2,315.2 104.7,315.8 107.2,315.5 109.8,316.4 112.3,316.3 114.8,316.8 117.3,318.9 119.9,313.2 122.4,318.5 124.9,315.5 127.4,313.5 129.9,315.3 132.5,315.7 135.0,313.9 137.5,309.6 140.0,311.8 142.6,311.4 145.1,307.8 147.6,308.6 150.1,311.9 152.6,312.1 155.2,312.8 157.7,311.8 160.2,311.6 162.7,311.1 165.3,313.2 167.8,309.2 170.3,310.4 172.8,311.1 175.4,307.0 177.9,311.8 180.4,307.1 182.9,307.6 185.4,310.7 188.0,304.0 190.5,303.3 193.0,305.7 195.5,299.5 198.1,299.3 200.6,299.7 203.1,298.3 205.6,297.5 208.1,296.2 210.7,297.2 213.2,296.2 215.7,295.2 218.2,292.9 220.8,292.9 223.3,290.9 225.8,295.5 228.3,291.2 230.8,295.7 233.4,297.0 235.9,291.3 238.4,290.9 240.9,290.0 243.5,290.6 246.0,285.9 248.5,285.1 251.0,282.4 253.5,280.8 256.1,281.3 258.6,275.7 261.1,275.7 263.6,274.6 266.2,274.2 268.7,269.7 271.2,272.3 273.7,269.8 276.3,268.6 278.8,264.9 281.3,258.8 283.8,255.5 286.3,251.2 288.9,242.0 291.4,232.0 293.9,222.9 296.4,210.0 299.0,191.7 301.5,178.2 304.0,155.2 306.5,137.4 309.0,123.9 311.6,104.9 314.1,89.7 316.6,74.4 319.1,60.0 321.7,49.4 324.2,38.8 326.7,28.5 329.2,25.0 331.7,20.7 334.3,20.6 336.8,15.3 339.3,17.5 341.8,18.8 344.4,22.5 346.9,29.8 349.4,33.8 351.9,39.4 354.4,47.9 357.0,56.8 359.5,62.6 362.0,71.8 364.5,82.5 367.1,89.1 369.6,95.0 372.1,101.3 374.6,108.7 377.2,113.6 379.7,124.7 382.2,132.0 384.7,140.9 387.2,149.2 389.8,161.5 392.3,175.9 394.8,189.1 397.3,202.3 399.9,218.4 402.4,233.8 404.9,245.9 407.4,259.9 409.9,272.4 412.5,283.9 415.0,297.5 417.5,306.6 420.0,314.5 422.6,318.8 425.1,324.7 427.6,331.0 430.1,334.1 432.6,338.0 435.2,338.7 437.7,342.8 440.2,346.2 442.7,346.7 445.3,347.4 447.8,345.0 450.3,346.9 452.8,344.6 455.3,347.2 457.9,344.8 460.4,344.7 462.9,344.4 465.4,347.0 468.0,346.2 470.5,346.0 473.0,343.5 475.5,346.0 478.1,343.0 480.6,348.6 483.1,345.6 485.6,346.3 488.1,345.8 490.7,343.1 493.2,343.6 495.7,346.3 498.2,349.3 500.8,344.5 503.3,345.3 505.8,346.7 508.3,343.7 510.8,343.1 513.4,345.6 515.9,346.4 518.4,345.8 520.9,349.5 523.5,346.4 526.0,347.4 528.5,349.8 531.0,350.1 533.5,343.8 536.1,346.2 538.6,349.1 541.1,344.3 543.6,345.2 546.2,344.5 548.7,344.4 551.2,344.9 553.7,347.4 556.2,349.5 558.8,350.0 561.3,347.1 563.8,343.3 566.3,347.0 568.9,346.4 571.4,347.8 573.9,346.9 576.4,343.7 579.0,347.9 581.5,343.2 584.0,345.8 586.5,347.7 589.0,347.8 591.6,350.2 594.1,342.7 596.6,347.8 599.1,348.5 601.7,346.7 604.2,348.8 606.7,345.7 609.2,349.3 611.7,349.3 614.3,346.6 616.8,347.5 619.3,348.6 621.8,347.9 624.4,351.4 626.9,350.0 629.4,352.4 631.9,352.3 634.4,350.4 637.0,350.2 639.5,349.0 642.0,349.5 644.5,349.7 647.1,352.1 649.6,350.0 652.1,352.1 654.6,352.5 657.4,351.5" fill="none" stroke="#000" stroke-width="1.4" stroke-linejoin="round"/>
<polygon points="328.5,707.5 329.5,707.7 330.5,707.9 331.5,708.0 332.5,708.2 333.5,708.4 334.5,708.6 335.5,708.7 336.5,708.9 337.5,709.0 338.5,709.1 339.5,709.2 340.5,709.3 341.5,709.4 342.5,709.5 343.5,709.6 344.5,709.6 345.5,709.6 346.5,709.6 347.5,709.6 348.5,709.5 349.5,709.4 350.5,709.3 351.5,709.2 352.5,709.0 353.5,708.8 354.5,708.6 355.5,708.4 356.5,708.1 357.5,707.7 358.5,707.4 359.5,707.0 360.5,706.6 361.5,706.1 362.5,705.6 363.5,705.1 364.5,704.6 365.5,704.0 366.5,703.5 367.5,702.9 368.5,702.2 369.5,701.6 370.5,701.0 371.5,700.3 372.5,699.7 373.5,699.0 374.5,698.4 375.5,697.8 376.5,697.2 377.5,696.6 378.5,696.1 379.5,695.5 380.5,695.1 381.5,694.6 382.5,694.2 383.5,693.9 384.5,693.6 385.5,693.4 386.5,693.2 387.5,693.1 388.5,693.1 389.5,693.1 390.5,693.2 391.5,693.3 392.5,693.6 393.5,693.9 394.5,694.2 395.5,694.6 396.5,695.1 397.5,695.6 398.5,696.1 399.5,696.8 400.5,697.4 401.5,698.1 402.5,698.8 403.5,699.5 404.5,700.3 405.5,701.1 406.5,701.9 407.5,702.7 408.5,703.5 409.5,704.3 410.5,705.1 411.5,705.9 412.5,706.7 413.5,707.4 414.5,708.2 415.5,708.9 416.5,709.6 417.5,710.3 418.5,710.9 419.5,711.6 420.5,712.2 421.5,712.7 422.5,713.3 423.5,713.8 424.5,714.3 425.5,714.7 426.5,715.1 427.5,715.5 428.5,715.9 429.5,716.2 430.5,716.5 431.5,716.8 432.5,717.1 433.5,717.3 434.5,717.5 435.5,717.7 436.5,717.9 437.5,718.1 438.5,718.2 439.5,718.4 440.5,718.5 441.5,718.6 442.5,718.7 443.5,718.8 444.5,718.8 445.5,718.9 446.5,719.0 447.5,719.0 448.5,719.1 449.5,719.1 450.5,719.1 450.5,719.5 449.5,719.5 448.5,719.5 447.5,719.5 446.5,719.5 445.5,719.5 444.5,719.5 443.5,719.5 442.5,719.5 441.5,719.5 440.5,719.5 439.5,719.5 438.5,719.5 437.5,719.4 436.5,719.4 435.5,719.4 434.5,719.4 433.5,719.4 432.5,719.4 431.5,719.4 430.5,719.4 429.5,719.4 428.5,719.4 427.5,719.4 426.5,719.4 425.5,719.4 424.5,719.4 423.5,719.4 422.5,719.4 421.5,719.4 420.5,719.4 419.5,719.4 418.5,719.4 417.5,719.4 416.5,719.3 415.5,719.3 414.5,719.3 413.5,719.3 412.5,719.3 411.5,719.3 410.5,719.3 409.5,719.3 408.5,719.2 407.5,719.2 406.5,719.2 405.5,719.2 404.5,719.2 403.5,719.1 402.5,719.1 401.5,719.1 400.5,719.1 399.5,719.0 398.5,719.0 397.5,719.0 396.5,718.9 395.5,718.9 394.5,718.9 393.5,718.8 392.5,718.8 391.5,718.7 390.5,718.7 389.5,718.6 388.5,718.5 387.5,718.5 386.5,718.4 385.5,718.3 384.5,718.3 383.5,718.2 382.5,718.1 381.5,718.0 380.5,717.9 379.5,717.8 378.5,717.7 377.5,717.6 376.5,717.5 375.5,717.4 374.5,717.3 373.5,717.1 372.5,717.0 371.5,716.9 370.5,716.7 369.5,716.6 368.5,716.4 367.5,716.3 366.5,716.1 365.5,715.9 364.5,715.8 363.5,715.6 362.5,715.4 361.5,715.2 360.5,715.0 359.5,714.8 358.5,714.6 357.5,714.4 356.5,714.2 355.5,714.0 354.5,713.8 353.5,713.5 352.5,713.3 351.5,713.1 350.5,712.9 349.5,712.6 348.5,712.4 347.5,712.2 346.5,712.0 345.5,711.7 344.5,711.5 343.5,711.3 342.5,711.0 341.5,710.8 340.5,710.6 339.5,710.3 338.5,710.1 337.5,709.9 336.5,709.6 335.5,709.4 334.5,709.2 333.5,708.9 332.5,708.7 331.5,708.5 330.5,708.3 329.5,708.0 328.5,707.8" fill="#ff8e8e"/>
<polygon points="215.5,700.2 216.5,700.2 217.5,700.2 218.5,700.2 219.5,700.2 220.5,700.2 221.5,700.2 222.5,700.2 223.5,700.2 224.5,700.2 225.5,700.2 226.5,700.2 227.5,700.2 228.5,700.2 229.5,700.2 230.5,700.2 231.5,700.2 232.5,700.2 233.5,700.2 234.5,700.2 235.5,700.2 236.5,700.2 237.5,700.2 238.5,700.2 239.5,700.2 240.5,700.2 241.5,700.2 242.5,700.2 243.5,700.2 244.5,700.2 245.5,700.2 246.5,700.2 247.5,700.2 248.5,700.2 249.5,700.2 250.5,700.2 251.5,700.2 252.5,700.2 253.5,700.2 254.5,700.2 255.5,700.2 256.5,700.2 257.5,700.2 258.5,700.2 259.5,700.3 260.5,700.3 261.5,700.3 262.5,700.3 263.5,700.3 264.5,700.3 265.5,700.3 266.5,700.3 267.5,700.3 268.5,700.3 269.5,700.3 270.5,700.4 271.5,700.4 272.5,700.4 273.5,700.4 274.5,700.4 275.5,700.4 276.5,700.4 277.5,700.4 278.5,700.4 279.5,700.4 280.5,700.4 281.5,700.4 282.5,700.4 283.5,700.4 284.5,700.4 285.5,700.4 286.5,700.3 287.5,700.3 288.5,700.2 289.5,700.1 290.5,700.0 291.5,699.9 292.5,699.8 293.5,699.7 294.5,699.5 295.5,699.2 296.5,699.0 297.5,698.7 298.5,698.3 299.5,697.9 300.5,697.5 301.5,696.9 302.5,696.3 303.5,695.6 304.5,694.8 305.5,693.9 306.5,692.9 307.5,691.7 308.5,690.5 309.5,689.0 310.5,687.4 311.5,685.7 312.5,683.8 313.5,681.6 314.5,679.3 315.5,676.7 316.5,673.9 317.5,670.9 318.5,667.7 319.5,664.1 320.5,660.4 321.5,656.3 322.5,652.0 323.5,647.4 324.5,642.6 325.5,637.5 326.5,632.1 327.5,626.5 328.5,620.6 329.5,614.5 330.5,608.2 331.5,601.7 332.5,595.1 333.5,588.3 334.5,581.4 335.5,574.4 336.5,567.4 337.5,560.3 338.5,553.3 339.5,546.4 340.5,539.5 341.5,532.9 342.5,526.4 343.5,520.2 344.5,514.2 345.5,508.6 346.5,503.4 347.5,498.5 348.5,494.2 349.5,490.3 350.5,487.0 351.5,484.2 352.5,482.0 353.5,480.4 354.5,479.4 355.5,479.0 356.5,479.3 357.5,480.2 358.5,481.7 359.5,483.9 360.5,486.6 361.5,490.0 362.5,493.8 363.5,498.2 364.5,503.1 365.5,508.4 366.5,514.1 367.5,520.2 368.5,526.6 369.5,533.3 370.5,540.2 371.5,547.2 372.5,554.5 373.5,561.8 374.5,569.2 375.5,576.6 376.5,583.9 377.5,591.2 378.5,598.5 379.5,605.6 380.5,612.5 381.5,619.3 382.5,625.9 383.5,632.2 384.5,638.3 385.5,644.2 386.5,649.8 387.5,655.1 388.5,660.2 389.5,665.0 390.5,669.5 391.5,673.8 392.5,677.8 393.5,681.5 394.5,684.9 395.5,688.1 396.5,691.1 397.5,693.8 398.5,696.3 399.5,698.6 400.5,700.7 401.5,702.6 402.5,704.3 403.5,705.9 404.5,707.3 405.5,708.6 406.5,709.8 407.5,710.8 408.5,711.7 409.5,712.5 410.5,713.3 411.5,713.9 412.5,714.5 413.5,715.0 414.5,715.4 415.5,715.8 416.5,716.2 417.5,716.5 418.5,716.8 419.5,717.0 420.5,717.2 421.5,717.4 422.5,717.5 423.5,717.7 424.5,717.8 425.5,717.9 426.5,718.0 427.5,718.1 428.5,718.2 429.5,718.2 430.5,718.3 431.5,718.3 432.5,718.4 433.5,718.4 434.5,718.5 435.5,718.5 436.5,718.5 437.5,718.6 438.5,718.6 439.5,718.6 440.5,718.6 441.5,718.7 442.5,718.7 443.5,718.7 444.5,718.7 445.5,718.7 446.5,718.8 447.5,718.8 448.5,718.8 449.5,718.8 450.5,718.8 451.5,718.8 452.5,718.8 453.5,718.9 454.5,718.9 455.5,718.9 456.5,718.9 457.5,718.9 458.5,718.9 459.5,718.9 460.5,718.9 461.5,718.9 462.5,719.0 463.5,719.0 464.5,719.0 465.5,719.0 466.5,719.0 467.5,719.0 468.5,719.0 469.5,719.0 470.5,719.0 471.5,719.0 472.5,719.0 473.5,719.1 474.5,719.1 475.5,719.1 476.5,719.1 477.5,719.1 478.5,719.1 479.5,719.1 480.5,719.1 481.5,719.1 482.5,719.1 483.5,719.1 484.5,719.1 485.5,719.1 486.5,719.1 487.5,719.1 488.5,719.2 489.5,719.2 490.5,719.2 491.5,719.2 492.5,719.2 493.5,719.2 494.5,719.2 495.5,719.2 496.5,719.2 496.5,719.5 495.5,719.5 494.5,719.5 493.5,719.5 492.5,719.5 491.5,719.5 490.5,719.5 489.5,719.5 488.5,719.5 487.5,719.5 486.5,719.5 485.5,719.5 484.5,719.5 483.5,719.5 482.5,719.5 481.5,719.5 480.5,719.5 479.5,719.5 478.5,719.5 477.5,719.5 476.5,719.5 475.5,719.5 474.5,719.5 473.5,719.5 472.5,719.5 471.5,719.5 470.5,719.5 469.5,719.5 468.5,719.5 467.5,719.5 466.5,719.5 465.5,719.5 464.5,719.5 463.5,719.5 462.5,719.5 461.5,719.5 460.5,719.5 459.5,719.5 458.5,719.5 457.5,719.5 456.5,719.5 455.5,719.5 454.5,719.5 453.5,719.5 452.5,719.5 451.5,719.5 450.5,719.5 449.5,719.5 448.5,719.5 447.5,719.5 446.5,719.5 445.5,719.5 444.5,719.5 443.5,719.5 442.5,719.5 441.5,719.5 440.5,719.5 439.5,719.5 438.5,719.5 437.5,719.4 436.5,719.4 435.5,719.4 434.5,719.4 433.5,719.4 432.5,719.4 431.5,719.4 430.5,719.4 429.5,719.4 428.5,719.4 427.5,719.4 426.5,719.4 425.5,719.4 424.5,719.4 423.5,719.4 422.5,719.4 421.5,719.4 420.5,719.4 419.5,719.4 418.5,719.4 417.5,719.4 416.5,719.3 415.5,719.3 414.5,719.3 413.5,719.3 412.5,719.3 411.5,719.3 410.5,719.3 409.5,719.3 408.5,719.2 407.5,719.2 406.5,719.2 405.5,719.2 404.5,719.2 403.5,719.1 402.5,719.1 401.5,719.1 400.5,719.1 399.5,719.0 398.5,719.0 397.5,719.0 396.5,718.9 395.5,718.9 394.5,718.9 393.5,718.8 392.5,718.8 391.5,718.7 390.5,718.7 389.5,718.6 388.5,718.5 387.5,718.5 386.5,718.4 385.5,718.3 384.5,718.3 383.5,718.2 382.5,718.1 381.5,718.0 380.5,717.9 379.5,717.8 378.5,717.7 377.5,717.6 376.5,717.5 375.5,717.4 374.5,717.3 373.5,717.1 372.5,717.0 371.5,716.9 370.5,716.7 369.5,716.6 368.5,716.4 367.5,716.3 366.5,716.1 365.5,715.9 364.5,715.8 363.5,715.6 362.5,715.4 361.5,715.2 360.5,715.0 359.5,714.8 358.5,714.6 357.5,714.4 356.5,714.2 355.5,714.0 354.5,713.8 353.5,713.5 352.5,713.3 351.5,713.1 350.5,712.9 349.5,712.6 348.5,712.4 347.5,712.2 346.5,712.0 345.5,711.7 344.5,711.5 343.5,711.3 342.5,711.0 341.5,710.8 340.5,710.6 339.5,710.3 338.5,710.1 337.5,709.9 336.5,709.6 335.5,709.4 334.5,709.2 333.5,708.9 332.5,708.7 331.5,708.5 330.5,708.3 329.5,708.0 328.5,707.8 327.5,707.6 326.5,707.4 325.5,707.2 324.5,706.9 323.5,706.7 322.5,706.5 321.5,706.3 320.5,706.1 319.5,705.9 318.5,705.7 317.5,705.5 316.5,705.3 315.5,705.1 314.5,705.0 313.5,704.8 312.5,704.6 311.5,704.5 310.5,704.3 309.5,704.1 308.5,704.0 307.5,703.8 306.5,703.7 305.5,703.6 304.5,703.4 303.5,703.3 302.5,703.2 301.5,703.1 300.5,703.0 299.5,702.9 298.5,702.8 297.5,702.7 296.5,702.6 295.5,702.5 294.5,702.4 293.5,702.3 292.5,702.2 291.5,702.2 290.5,702.1 289.5,702.0 288.5,702.0 287.5,701.9 286.5,701.8 285.5,701.8 284.5,701.7 283.5,701.7 282.5,701.6 281.5,701.6 280.5,701.5 279.5,701.5 278.5,701.4 277.5,701.4 276.5,701.4 275.5,701.3 274.5,701.3 273.5,701.2 272.5,701.2 271.5,701.2 270.5,701.2 269.5,701.1 268.5,701.1 267.5,701.1 266.5,701.0 265.5,701.0 264.5,701.0 263.5,701.0 262.5,700.9 261.5,700.9 260.5,700.9 259.5,700.9 258.5,700.9 257.5,700.8 256.5,700.8 255.5,700.8 254.5,700.8 253.5,700.8 252.5,700.8 251.5,700.8 250.5,700.7 249.5,700.7 248.5,700.7 247.5,700.7 246.5,700.7 245.5,700.7 244.5,700.7 243.5,700.7 242.5,700.7 241.5,700.7 240.5,700.7 239.5,700.7 238.5,700.6 237.5,700.6 236.5,700.6 235.5,700.6 234.5,700.6 233.5,700.6 232.5,700.6 231.5,700.6 230.5,700.6 229.5,700.6 228.5,700.6 227.5,700.6 226.5,700.6 225.5,700.6 224.5,700.6 223.5,700.6 222.5,700.6 221.5,700.5 220.5,700.5 219.5,700.5 218.5,700.5 217.5,700.5 216.5,700.5 215.5,700.5" fill="#d6f28f"/>
<polygon points="185.5,700.0 186.5,700.0 187.5,700.0 188.5,700.0 189.5,700.0 190.5,700.0 191.5,700.0 192.5,700.0 193.5,700.0 194.5,700.0 195.5,700.0 196.5,700.0 197.5,700.0 198.5,700.0 199.5,700.0 200.5,700.0 201.5,700.0 202.5,700.0 203.5,700.0 204.5,700.0 205.5,700.0 206.5,700.0 207.5,700.0 208.5,700.0 209.5,700.0 210.5,700.0 211.5,700.0 212.5,700.0 213.5,700.0 214.5,700.0 215.5,700.0 216.5,700.0 217.5,700.0 218.5,700.0 219.5,700.0 220.5,700.0 221.5,700.0 222.5,700.0 223.5,700.0 224.5,700.0 225.5,700.0 226.5,700.0 227.5,700.0 228.5,700.0 229.5,700.0 230.5,699.9 231.5,699.9 232.5,699.9 233.5,699.9 234.5,699.9 235.5,699.9 236.5,699.9 237.5,699.9 238.5,699.9 239.5,699.8 240.5,699.8 241.5,699.8 242.5,699.8 243.5,699.8 244.5,699.7 245.5,699.7 246.5,699.7 247.5,699.6 248.5,699.6 249.5,699.5 250.5,699.5 251.5,699.4 252.5,699.4 253.5,699.3 254.5,699.2 255.5,699.1 256.5,699.0 257.5,698.8 258.5,698.6 259.5,698.5 260.5,698.2 261.5,698.0 262.5,697.7 263.5,697.4 264.5,697.0 265.5,696.6 266.5,696.1 267.5,695.5 268.5,694.9 269.5,694.2 270.5,693.4 271.5,692.5 272.5,691.4 273.5,690.3 274.5,689.1 275.5,687.7 276.5,686.1 277.5,684.4 278.5,682.5 279.5,680.5 280.5,678.2 281.5,675.8 282.5,673.1 283.5,670.2 284.5,667.1 285.5,663.7 286.5,660.1 287.5,656.2 288.5,652.1 289.5,647.7 290.5,643.0 291.5,638.2 292.5,633.0 293.5,627.6 294.5,622.0 295.5,616.2 296.5,610.1 297.5,603.9 298.5,597.5 299.5,590.9 300.5,584.3 301.5,577.5 302.5,570.7 303.5,563.9 304.5,557.1 305.5,550.3 306.5,543.7 307.5,537.1 308.5,530.8 309.5,524.6 310.5,518.7 311.5,513.2 312.5,507.9 313.5,503.1 314.5,498.6 315.5,494.6 316.5,491.2 317.5,488.2 318.5,485.8 319.5,484.0 320.5,482.7 321.5,482.1 322.5,482.0 323.5,482.6 324.5,483.8 325.5,485.6 326.5,487.9 327.5,490.9 328.5,494.3 329.5,498.3 330.5,502.8 331.5,507.7 332.5,513.1 333.5,518.8 334.5,524.8 335.5,531.1 336.5,537.7 337.5,544.5 338.5,551.4 339.5,558.5 340.5,565.6 341.5,572.8 342.5,580.0 343.5,587.1 344.5,594.2 345.5,601.2 346.5,608.0 347.5,614.7 348.5,621.2 349.5,627.5 350.5,633.6 351.5,639.5 352.5,645.2 353.5,650.5 354.5,655.7 355.5,660.5 356.5,665.2 357.5,669.5 358.5,673.6 359.5,677.4 360.5,681.0 361.5,684.3 362.5,687.4 363.5,690.3 364.5,692.9 365.5,695.4 366.5,697.6 367.5,699.6 368.5,701.5 369.5,703.2 370.5,704.8 371.5,706.2 372.5,707.5 373.5,708.6 374.5,709.7 375.5,710.6 376.5,711.4 377.5,712.2 378.5,712.9 379.5,713.5 380.5,714.0 381.5,714.5 382.5,714.9 383.5,715.3 384.5,715.7 385.5,716.0 386.5,716.2 387.5,716.5 388.5,716.7 389.5,716.9 390.5,717.1 391.5,717.2 392.5,717.4 393.5,717.5 394.5,717.6 395.5,717.7 396.5,717.8 397.5,717.9 398.5,718.0 399.5,718.0 400.5,718.1 401.5,718.2 402.5,718.2 403.5,718.3 404.5,718.3 405.5,718.4 406.5,718.4 407.5,718.5 408.5,718.5 409.5,718.5 410.5,718.6 411.5,718.6 412.5,718.6 413.5,718.6 414.5,718.7 415.5,718.7 416.5,718.7 417.5,718.7 418.5,718.8 419.5,718.8 420.5,718.8 421.5,718.8 422.5,718.8 423.5,718.9 424.5,718.9 425.5,718.9 426.5,718.9 427.5,718.9 428.5,718.9 429.5,718.9 430.5,719.0 431.5,719.0 432.5,719.0 433.5,719.0 434.5,719.0 435.5,719.0 436.5,719.0 437.5,719.0 438.5,719.0 439.5,719.0 440.5,719.0 441.5,719.1 442.5,719.1 443.5,719.1 444.5,719.1 445.5,719.1 446.5,719.1 447.5,719.1 448.5,719.1 449.5,719.1 450.5,719.1 451.5,719.1 452.5,719.1 453.5,719.1 454.5,719.1 455.5,719.1 456.5,719.2 457.5,719.2 458.5,719.2 459.5,719.2 459.5,719.5 458.5,719.5 457.5,719.5 456.5,719.5 455.5,719.5 454.5,719.5 453.5,719.5 452.5,719.5 451.5,719.5 450.5,719.5 449.5,719.5 448.5,719.5 447.5,719.5 446.5,719.5 445.5,719.5 444.5,719.5 443.5,719.5 442.5,719.5 441.5,719.5 440.5,719.5 439.5,719.5 438.5,719.5 437.5,719.4 436.5,719.4 435.5,719.4 434.5,719.4 433.5,719.4 432.5,719.4 431.5,719.4 430.5,719.4 429.5,719.4 428.5,719.4 427.5,719.4 426.5,719.4 425.5,719.4 424.5,719.4 423.5,719.4 422.5,719.4 421.5,719.4 420.5,719.4 419.5,719.4 418.5,719.4 417.5,719.4 416.5,719.3 415.5,719.3 414.5,719.3 413.5,719.3 412.5,719.3 411.5,719.3 410.5,719.3 409.5,719.3 408.5,719.2 407.5,719.2 406.5,719.2 405.5,719.2 404.5,719.2 403.5,719.1 402.5,719.1 401.5,719.1 400.5,719.1 399.5,719.0 398.5,719.0 397.5,719.0 396.5,718.9 395.5,718.9 394.5,718.9 393.5,718.8 392.5,718.8 391.5,718.7 390.5,718.7 389.5,718.6 388.5,718.5 387.5,718.5 386.5,718.4 385.5,718.3 384.5,718.3 383.5,718.2 382.5,718.1 381.5,718.0 380.5,717.9 379.5,717.8 378.5,717.7 377.5,717.6 376.5,717.5 375.5,717.4 374.5,717.3 373.5,717.1 372.5,717.0 371.5,716.9 370.5,716.7 369.5,716.6 368.5,716.4 367.5,716.3 366.5,716.1 365.5,715.9 364.5,715.8 363.5,715.6 362.5,715.4 361.5,715.2 360.5,715.0 359.5,714.8 358.5,714.6 357.5,714.4 356.5,714.2 355.5,714.0 354.5,713.8 353.5,713.5 352.5,713.3 351.5,713.1 350.5,712.9 349.5,712.6 348.5,712.4 347.5,712.2 346.5,712.0 345.5,711.7 344.5,711.5 343.5,711.3 342.5,711.0 341.5,710.8 340.5,710.6 339.5,710.3 338.5,710.1 337.5,709.9 336.5,709.6 335.5,709.4 334.5,709.2 333.5,708.9 332.5,708.7 331.5,708.5 330.5,708.3 329.5,708.0 328.5,707.8 327.5,707.6 326.5,707.4 325.5,707.2 324.5,706.9 323.5,706.7 322.5,706.5 321.5,706.3 320.5,706.1 319.5,705.9 318.5,705.7 317.5,705.5 316.5,705.3 315.5,705.1 314.5,705.0 313.5,704.8 312.5,704.6 311.5,704.5 310.5,704.3 309.5,704.1 308.5,704.0 307.5,703.8 306.5,703.7 305.5,703.6 304.5,703.4 303.5,703.3 302.5,703.2 301.5,703.1 300.5,703.0 299.5,702.9 298.5,702.8 297.5,702.7 296.5,702.6 295.5,702.5 294.5,702.4 293.5,702.3 292.5,702.2 291.5,702.2 290.5,702.1 289.5,702.0 288.5,702.0 287.5,701.9 286.5,701.8 285.5,701.8 284.5,701.7 283.5,701.7 282.5,701.6 281.5,701.6 280.5,701.5 279.5,701.5 278.5,701.4 277.5,701.4 276.5,701.4 275.5,701.3 274.5,701.3 273.5,701.2 272.5,701.2 271.5,701.2 270.5,701.2 269.5,701.1 268.5,701.1 267.5,701.1 266.5,701.0 265.5,701.0 264.5,701.0 263.5,701.0 262.5,700.9 261.5,700.9 260.5,700.9 259.5,700.9 258.5,700.9 257.5,700.8 256.5,700.8 255.5,700.8 254.5,700.8 253.5,700.8 252.5,700.8 251.5,700.8 250.5,700.7 249.5,700.7 248.5,700.7 247.5,700.7 246.5,700.7 245.5,700.7 244.5,700.7 243.5,700.7 242.5,700.7 241.5,700.7 240.5,700.7 239.5,700.7 238.5,700.6 237.5,700.6 236.5,700.6 235.5,700.6 234.5,700.6 233.5,700.6 232.5,700.6 231.5,700.6 230.5,700.6 229.5,700.6 228.5,700.6 227.5,700.6 226.5,700.6 225.5,700.6 224.5,700.6 223.5,700.6 222.5,700.6 221.5,700.5 220.5,700.5 219.5,700.5 218.5,700.5 217.5,700.5 216.5,700.5 215.5,700.5 214.5,700.5 213.5,700.5 212.5,700.5 211.5,700.5 210.5,700.5 209.5,700.5 208.5,700.5 207.5,700.5 206.5,700.5 205.5,700.4 204.5,700.4 203.5,700.4 202.5,700.4 201.5,700.4 200.5,700.4 199.5,700.4 198.5,700.4 197.5,700.4 196.5,700.4 195.5,700.4 194.5,700.4 193.5,700.4 192.5,700.4 191.5,700.4 190.5,700.4 189.5,700.4 188.5,700.4 187.5,700.4 186.5,700.4 185.5,700.3" fill="#86b4e9"/>
<polygon points="213.5,700.2 214.5,700.2 215.5,700.2 216.5,700.1 217.5,700.1 218.5,700.1 219.5,700.0 220.5,700.0 221.5,699.9 222.5,699.8 223.5,699.8 224.5,699.7 225.5,699.6 226.5,699.5 227.5,699.3 228.5,699.2 229.5,699.0 230.5,698.8 231.5,698.6 232.5,698.4 233.5,698.2 234.5,697.9 235.5,697.6 236.5,697.3 237.5,696.9 238.5,696.5 239.5,696.1 240.5,695.6 241.5,695.1 242.5,694.5 243.5,694.0 244.5,693.3 245.5,692.7 246.5,691.9 247.5,691.2 248.5,690.4 249.5,689.6 250.5,688.7 251.5,687.8 252.5,686.8 253.5,685.9 254.5,684.8 255.5,683.8 256.5,682.7 257.5,681.7 258.5,680.6 259.5,679.5 260.5,678.3 261.5,677.2 262.5,676.1 263.5,675.1 264.5,674.0 265.5,673.0 266.5,672.0 267.5,671.0 268.5,670.1 269.5,669.2 270.5,668.4 271.5,667.7 272.5,667.1 273.5,666.5 274.5,666.0 275.5,665.6 276.5,665.3 277.5,665.1 278.5,665.0 279.5,665.0 280.5,665.1 281.5,665.3 282.5,665.6 283.5,666.0 284.5,666.4 285.5,667.0 286.5,667.7 287.5,668.4 288.5,669.2 289.5,670.1 290.5,671.1 291.5,672.1 292.5,673.1 293.5,674.3 294.5,675.4 295.5,676.6 296.5,677.8 297.5,679.0 298.5,680.2 299.5,681.4 300.5,682.7 301.5,683.9 302.5,685.1 303.5,686.3 304.5,687.5 305.5,688.6 306.5,689.8 307.5,690.9 308.5,691.9 309.5,693.0 310.5,694.0 311.5,694.9 312.5,695.9 313.5,696.7 314.5,697.6 315.5,698.4 316.5,699.2 317.5,699.9 318.5,700.6 319.5,701.3 320.5,702.0 321.5,702.6 322.5,703.1 323.5,703.7 324.5,704.2 325.5,704.7 326.5,705.2 327.5,705.6 328.5,706.1 329.5,706.5 330.5,706.9 331.5,707.2 332.5,707.6 333.5,707.9 334.5,708.3 335.5,708.6 336.5,708.9 337.5,709.2 338.5,709.5 339.5,709.8 340.5,710.1 341.5,710.4 342.5,710.6 343.5,710.9 344.5,711.2 345.5,711.4 345.5,711.7 344.5,711.5 343.5,711.3 342.5,711.0 341.5,710.8 340.5,710.6 339.5,710.3 338.5,710.1 337.5,709.9 336.5,709.6 335.5,709.4 334.5,709.2 333.5,708.9 332.5,708.7 331.5,708.5 330.5,708.3 329.5,708.0 328.5,707.8 327.5,707.6 326.5,707.4 325.5,707.2 324.5,706.9 323.5,706.7 322.5,706.5 321.5,706.3 320.5,706.1 319.5,705.9 318.5,705.7 317.5,705.5 316.5,705.3 315.5,705.1 314.5,705.0 313.5,704.8 312.5,704.6 311.5,704.5 310.5,704.3 309.5,704.1 308.5,704.0 307.5,703.8 306.5,703.7 305.5,703.6 304.5,703.4 303.5,703.3 302.5,703.2 301.5,703.1 300.5,703.0 299.5,702.9 298.5,702.8 297.5,702.7 296.5,702.6 295.5,702.5 294.5,702.4 293.5,702.3 292.5,702.2 291.5,702.2 290.5,702.1 289.5,702.0 288.5,702.0 287.5,701.9 286.5,701.8 285.5,701.8 284.5,701.7 283.5,701.7 282.5,701.6 281.5,701.6 280.5,701.5 279.5,701.5 278.5,701.4 277.5,701.4 276.5,701.4 275.5,701.3 274.5,701.3 273.5,701.2 272.5,701.2 271.5,701.2 270.5,701.2 269.5,701.1 268.5,701.1 267.5,701.1 266.5,701.0 265.5,701.0 264.5,701.0 263.5,701.0 262.5,700.9 261.5,700.9 260.5,700.9 259.5,700.9 258.5,700.9 257.5,700.8 256.5,700.8 255.5,700.8 254.5,700.8 253.5,700.8 252.5,700.8 251.5,700.8 250.5,700.7 249.5,700.7 248.5,700.7 247.5,700.7 246.5,700.7 245.5,700.7 244.5,700.7 243.5,700.7 242.5,700.7 241.5,700.7 240.5,700.7 239.5,700.7 238.5,700.6 237.5,700.6 236.5,700.6 235.5,700.6 234.5,700.6 233.5,700.6 232.5,700.6 231.5,700.6 230.5,700.6 229.5,700.6 228.5,700.6 227.5,700.6 226.5,700.6 225.5,700.6 224.5,700.6 223.5,700.6 222.5,700.6 221.5,700.5 220.5,700.5 219.5,700.5 218.5,700.5 217.5,700.5 216.5,700.5 215.5,700.5 214.5,700.5 213.5,700.5" fill="#c9abe2"/>
<polygon points="160.5,700.0 161.5,699.9 162.5,699.9 163.5,699.9 164.5,699.8 165.5,699.7 166.5,699.7 167.5,699.6 168.5,699.5 169.5,699.5 170.5,699.4 171.5,699.3 172.5,699.2 173.5,699.0 174.5,698.9 175.5,698.8 176.5,698.6 177.5,698.5 178.5,698.3 179.5,698.2 180.5,698.0 181.5,697.8 182.5,697.6 183.5,697.4 184.5,697.2 185.5,697.0 186.5,696.7 187.5,696.5 188.5,696.3 189.5,696.0 190.5,695.8 191.5,695.6 192.5,695.3 193.5,695.1 194.5,694.8 195.5,694.6 196.5,694.4 197.5,694.1 198.5,693.9 199.5,693.7 200.5,693.5 201.5,693.3 202.5,693.2 203.5,693.0 204.5,692.9 205.5,692.8 206.5,692.7 207.5,692.6 208.5,692.5 209.5,692.5 210.5,692.5 211.5,692.5 212.5,692.5 213.5,692.6 214.5,692.6 215.5,692.7 216.5,692.8 217.5,693.0 218.5,693.1 219.5,693.3 220.5,693.5 221.5,693.7 222.5,693.9 223.5,694.1 224.5,694.3 225.5,694.5 226.5,694.8 227.5,695.0 228.5,695.3 229.5,695.5 230.5,695.8 231.5,696.0 232.5,696.3 233.5,696.5 234.5,696.8 235.5,697.0 236.5,697.3 237.5,697.5 238.5,697.7 239.5,697.9 240.5,698.1 241.5,698.3 242.5,698.5 243.5,698.7 244.5,698.8 245.5,699.0 246.5,699.2 247.5,699.3 248.5,699.4 249.5,699.6 250.5,699.7 251.5,699.8 252.5,699.9 253.5,700.0 254.5,700.1 255.5,700.2 256.5,700.3 257.5,700.3 258.5,700.4 259.5,700.5 260.5,700.5 261.5,700.6 261.5,700.9 260.5,700.9 259.5,700.9 258.5,700.9 257.5,700.8 256.5,700.8 255.5,700.8 254.5,700.8 253.5,700.8 252.5,700.8 251.5,700.8 250.5,700.7 249.5,700.7 248.5,700.7 247.5,700.7 246.5,700.7 245.5,700.7 244.5,700.7 243.5,700.7 242.5,700.7 241.5,700.7 240.5,700.7 239.5,700.7 238.5,700.6 237.5,700.6 236.5,700.6 235.5,700.6 234.5,700.6 233.5,700.6 232.5,700.6 231.5,700.6 230.5,700.6 229.5,700.6 228.5,700.6 227.5,700.6 226.5,700.6 225.5,700.6 224.5,700.6 223.5,700.6 222.5,700.6 221.5,700.5 220.5,700.5 219.5,700.5 218.5,700.5 217.5,700.5 216.5,700.5 215.5,700.5 214.5,700.5 213.5,700.5 212.5,700.5 211.5,700.5 210.5,700.5 209.5,700.5 208.5,700.5 207.5,700.5 206.5,700.5 205.5,700.4 204.5,700.4 203.5,700.4 202.5,700.4 201.5,700.4 200.5,700.4 199.5,700.4 198.5,700.4 197.5,700.4 196.5,700.4 195.5,700.4 194.5,700.4 193.5,700.4 192.5,700.4 191.5,700.4 190.5,700.4 189.5,700.4 188.5,700.4 187.5,700.4 186.5,700.4 185.5,700.3 184.5,700.3 183.5,700.3 182.5,700.3 181.5,700.3 180.5,700.3 179.5,700.3 178.5,700.3 177.5,700.3 176.5,700.3 175.5,700.3 174.5,700.3 173.5,700.3 172.5,700.3 171.5,700.3 170.5,700.3 169.5,700.3 168.5,700.3 167.5,700.3 166.5,700.3 165.5,700.3 164.5,700.3 163.5,700.3 162.5,700.3 161.5,700.3 160.5,700.3" fill="#fff24e"/>
<polyline points="126.5,700.3 127.5,700.3 128.5,700.3 129.5,700.3 130.5,700.3 131.5,700.3 132.5,700.3 133.5,700.3 134.5,700.3 135.5,700.3 136.5,700.3 137.5,700.3 138.5,700.3 139.5,700.3 140.5,700.3 141.5,700.3 142.5,700.3 143.5,700.3 144.5,700.3 145.5,700.3 146.5,700.3 147.5,700.3 148.5,700.3 149.5,700.3 150.5,700.3 151.5,700.3 152.5,700.3 153.5,700.3 154.5,700.3 155.5,700.3 156.5,700.3 157.5,700.3 158.5,700.3 159.5,700.3 160.5,700.3 161.5,700.3 162.5,700.3 163.5,700.3 164.5,700.3 165.5,700.3 166.5,700.3 167.5,700.3 168.5,700.3 169.5,700.3 170.5,700.3 171.5,700.3 172.5,700.3 173.5,700.3 174.5,700.3 175.5,700.3 176.5,700.3 177.5,700.3 178.5,700.3 179.5,700.3 180.5,700.3 181.5,700.3 182.5,700.3 183.5,700.3 184.5,700.3 185.5,700.3 186.5,700.3 187.5,700.3 188.5,700.3 189.5,700.3 190.5,700.4 191.5,700.4 192.5,700.4 193.5,700.4 194.5,700.4 195.5,700.4 196.5,700.4 197.5,700.4 198.5,700.4 199.5,700.4 200.5,700.4 201.5,700.4 202.5,700.4 203.5,700.4 204.5,700.4 205.5,700.4 206.5,700.4 207.5,700.4 208.5,700.4 209.5,700.5 210.5,700.5 211.5,700.5 212.5,700.5 213.5,700.5 214.5,700.5 215.5,700.5 216.5,700.5 217.5,700.5 218.5,700.5 219.5,700.5 220.5,700.5 221.5,700.5 222.5,700.5 223.5,700.5 224.5,700.5 225.5,700.5 226.5,700.6 227.5,700.6 228.5,700.6 229.5,700.6 230.5,700.6 231.5,700.6 232.5,700.6 233.5,700.6 234.5,700.6 235.5,700.6 236.5,700.6 237.5,700.6 238.5,700.6 239.5,700.6 240.5,700.6 241.5,700.6 242.5,700.6 243.5,700.7 244.5,700.7 245.5,700.7 246.5,700.7 247.5,700.7 248.5,700.7 249.5,700.7 250.5,700.7 251.5,700.7 252.5,700.7 253.5,700.7 254.5,700.8 255.5,700.8 256.5,700.8 257.5,700.8 258.5,700.8 259.5,700.8 260.5,700.9 261.5,700.9 262.5,700.9 263.5,700.9 264.5,700.9 265.5,701.0 266.5,701.0 267.5,701.0 268.5,701.0 269.5,701.1 270.5,701.1 271.5,701.1 272.5,701.2 273.5,701.2 274.5,701.2 275.5,701.3 276.5,701.3 277.5,701.3 278.5,701.4 279.5,701.4 280.5,701.5 281.5,701.5 282.5,701.6 283.5,701.6 284.5,701.7 285.5,701.7 286.5,701.8 287.5,701.8 288.5,701.9 289.5,702.0 290.5,702.0 291.5,702.1 292.5,702.2 293.5,702.2 294.5,702.3 295.5,702.4 296.5,702.5 297.5,702.6 298.5,702.7 299.5,702.8 300.5,702.9 301.5,703.0 302.5,703.1 303.5,703.2 304.5,703.3 305.5,703.5 306.5,703.6 307.5,703.7 308.5,703.9 309.5,704.0 310.5,704.2 311.5,704.3 312.5,704.5 313.5,704.7 314.5,704.8 315.5,705.0 316.5,705.2 317.5,705.4 318.5,705.6 319.5,705.7 320.5,705.9 321.5,706.1 322.5,706.3 323.5,706.5 324.5,706.7 325.5,706.9 326.5,707.1 327.5,707.3 328.5,707.5 329.5,707.7 330.5,707.9 331.5,708.0 332.5,708.2 333.5,708.4 334.5,708.6 335.5,708.7 336.5,708.9 337.5,709.0 338.5,709.1 339.5,709.2 340.5,709.3 341.5,709.4 342.5,709.5 343.5,709.6 344.5,709.6 345.5,709.6 346.5,709.6 347.5,709.6 348.5,709.5 349.5,709.4 350.5,709.3 351.5,709.2 352.5,709.0 353.5,708.8 354.5,708.6 355.5,708.4 356.5,708.1 357.5,707.7 358.5,707.4 359.5,707.0 360.5,706.6 361.5,706.1 362.5,705.6 363.5,705.1 364.5,704.6 365.5,704.0 366.5,703.5 367.5,702.9 368.5,702.2 369.5,701.6 370.5,701.0 371.5,700.3 372.5,699.7 373.5,699.0 374.5,698.4 375.5,697.8 376.5,697.2 377.5,696.6 378.5,696.1 379.5,695.5 380.5,695.1 381.5,694.6 382.5,694.2 383.5,693.9 384.5,693.6 385.5,693.4 386.5,693.2 387.5,693.1 388.5,693.1 389.5,693.1 390.5,693.2 391.5,693.3 392.5,693.6 393.5,693.9 394.5,694.2 395.5,694.6 396.5,695.1 397.5,695.6 398.5,696.1 399.5,696.8 400.5,697.4 401.5,698.1 402.5,698.8 403.5,699.5 404.5,700.3 405.5,701.1 406.5,701.9 407.5,702.7 408.5,703.5 409.5,704.3 410.5,705.1 411.5,705.9 412.5,706.7 413.5,707.4 414.5,708.2 415.5,708.9 416.5,709.6 417.5,710.3 418.5,710.9 419.5,711.6 420.5,712.2 421.5,712.7 422.5,713.3 423.5,713.8 424.5,714.3 425.5,714.7 426.5,715.1 427.5,715.5 428.5,715.9 429.5,716.2 430.5,716.5 431.5,716.8 432.5,717.1 433.5,717.3 434.5,717.5 435.5,717.7 436.5,717.9 437.5,718.1 438.5,718.2 439.5,718.4 440.5,718.5 441.5,718.6 442.5,718.7 443.5,718.8 444.5,718.8 445.5,718.9 446.5,719.0 447.5,719.0 448.5,719.1 449.5,719.1 450.5,719.1 451.5,719.2 452.5,719.2 453.5,719.2 454.5,719.2 455.5,719.3 456.5,719.3 457.5,719.3 458.5,719.3 459.5,719.3 460.5,719.3 461.5,719.3 462.5,719.3 463.5,719.3 464.5,719.4 465.5,719.4 466.5,719.4 467.5,719.4 468.5,719.4 469.5,719.4 470.5,719.4 471.5,719.4 472.5,719.4 473.5,719.4 474.5,719.4 475.5,719.4 476.5,719.4 477.5,719.4 478.5,719.4 479.5,719.4 480.5,719.4 481.5,719.4 482.5,719.4 483.5,719.4 484.5,719.4 485.5,719.4 486.5,719.4 487.5,719.4 488.5,719.4 489.5,719.4 490.5,719.4 491.5,719.4 492.5,719.4 493.5,719.4 494.5,719.4 495.5,719.4 496.5,719.4 497.5,719.4 498.5,719.4 499.5,719.4 500.5,719.4 501.5,719.4 502.5,719.4 503.5,719.4 504.5,719.4 505.5,719.5 506.5,719.5 507.5,719.5 508.5,719.5 509.5,719.5 510.5,719.5 511.5,719.5" fill="none" stroke="#c8413f" stroke-width="1.5"/>
<polyline points="126.5,700.2 127.5,700.2 128.5,700.2 129.5,700.2 130.5,700.2 131.5,700.2 132.5,700.2 133.5,700.2 134.5,700.2 135.5,700.2 136.5,700.2 137.5,700.2 138.5,700.2 139.5,700.2 140.5,700.2 141.5,700.2 142.5,700.2 143.5,700.2 144.5,700.2 145.5,700.2 146.5,700.2 147.5,700.2 148.5,700.2 149.5,700.2 150.5,700.2 151.5,700.2 152.5,700.2 153.5,700.2 154.5,700.2 155.5,700.2 156.5,700.2 157.5,700.2 158.5,700.2 159.5,700.2 160.5,700.2 161.5,700.2 162.5,700.2 163.5,700.2 164.5,700.1 165.5,700.1 166.5,700.1 167.5,700.1 168.5,700.1 169.5,700.1 170.5,700.1 171.5,700.1 172.5,700.1 173.5,700.1 174.5,700.1 175.5,700.1 176.5,700.1 177.5,700.1 178.5,700.1 179.5,700.1 180.5,700.1 181.5,700.1 182.5,700.1 183.5,700.1 184.5,700.1 185.5,700.1 186.5,700.1 187.5,700.1 188.5,700.1 189.5,700.1 190.5,700.1 191.5,700.1 192.5,700.1 193.5,700.2 194.5,700.2 195.5,700.2 196.5,700.2 197.5,700.2 198.5,700.2 199.5,700.2 200.5,700.2 201.5,700.2 202.5,700.2 203.5,700.2 204.5,700.2 205.5,700.2 206.5,700.2 207.5,700.2 208.5,700.2 209.5,700.2 210.5,700.2 211.5,700.2 212.5,700.2 213.5,700.2 214.5,700.2 215.5,700.2 216.5,700.2 217.5,700.2 218.5,700.2 219.5,700.2 220.5,700.2 221.5,700.2 222.5,700.2 223.5,700.2 224.5,700.2 225.5,700.2 226.5,700.2 227.5,700.2 228.5,700.2 229.5,700.2 230.5,700.2 231.5,700.2 232.5,700.2 233.5,700.2 234.5,700.2 235.5,700.2 236.5,700.2 237.5,700.2 238.5,700.2 239.5,700.2 240.5,700.2 241.5,700.2 242.5,700.2 243.5,700.2 244.5,700.2 245.5,700.2 246.5,700.2 247.5,700.2 248.5,700.2 249.5,700.2 250.5,700.2 251.5,700.2 252.5,700.2 253.5,700.2 254.5,700.2 255.5,700.2 256.5,700.2 257.5,700.2 258.5,700.2 259.5,700.3 260.5,700.3 261.5,700.3 262.5,700.3 263.5,700.3 264.5,700.3 265.5,700.3 266.5,700.3 267.5,700.3 268.5,700.3 269.5,700.3 270.5,700.4 271.5,700.4 272.5,700.4 273.5,700.4 274.5,700.4 275.5,700.4 276.5,700.4 277.5,700.4 278.5,700.4 279.5,700.4 280.5,700.4 281.5,700.4 282.5,700.4 283.5,700.4 284.5,700.4 285.5,700.4 286.5,700.3 287.5,700.3 288.5,700.2 289.5,700.1 290.5,700.0 291.5,699.9 292.5,699.8 293.5,699.7 294.5,699.5 295.5,699.2 296.5,699.0 297.5,698.7 298.5,698.3 299.5,697.9 300.5,697.5 301.5,696.9 302.5,696.3 303.5,695.6 304.5,694.8 305.5,693.9 306.5,692.9 307.5,691.7 308.5,690.5 309.5,689.0 310.5,687.4 311.5,685.7 312.5,683.8 313.5,681.6 314.5,679.3 315.5,676.7 316.5,673.9 317.5,670.9 318.5,667.7 319.5,664.1 320.5,660.4 321.5,656.3 322.5,652.0 323.5,647.4 324.5,642.6 325.5,637.5 326.5,632.1 327.5,626.5 328.5,620.6 329.5,614.5 330.5,608.2 331.5,601.7 332.5,595.1 333.5,588.3 334.5,581.4 335.5,574.4 336.5,567.4 337.5,560.3 338.5,553.3 339.5,546.4 340.5,539.5 341.5,532.9 342.5,526.4 343.5,520.2 344.5,514.2 345.5,508.6 346.5,503.4 347.5,498.5 348.5,494.2 349.5,490.3 350.5,487.0 351.5,484.2 352.5,482.0 353.5,480.4 354.5,479.4 355.5,479.0 356.5,479.3 357.5,480.2 358.5,481.7 359.5,483.9 360.5,486.6 361.5,490.0 362.5,493.8 363.5,498.2 364.5,503.1 365.5,508.4 366.5,514.1 367.5,520.2 368.5,526.6 369.5,533.3 370.5,540.2 371.5,547.2 372.5,554.5 373.5,561.8 374.5,569.2 375.5,576.6 376.5,583.9 377.5,591.2 378.5,598.5 379.5,605.6 380.5,612.5 381.5,619.3 382.5,625.9 383.5,632.2 384.5,638.3 385.5,644.2 386.5,649.8 387.5,655.1 388.5,660.2 389.5,665.0 390.5,669.5 391.5,673.8 392.5,677.8 393.5,681.5 394.5,684.9 395.5,688.1 396.5,691.1 397.5,693.8 398.5,696.3 399.5,698.6 400.5,700.7 401.5,702.6 402.5,704.3 403.5,705.9 404.5,707.3 405.5,708.6 406.5,709.8 407.5,710.8 408.5,711.7 409.5,712.5 410.5,713.3 411.5,713.9 412.5,714.5 413.5,715.0 414.5,715.4 415.5,715.8 416.5,716.2 417.5,716.5 418.5,716.8 419.5,717.0 420.5,717.2 421.5,717.4 422.5,717.5 423.5,717.7 424.5,717.8 425.5,717.9 426.5,718.0 427.5,718.1 428.5,718.2 429.5,718.2 430.5,718.3 431.5,718.3 432.5,718.4 433.5,718.4 434.5,718.5 435.5,718.5 436.5,718.5 437.5,718.6 438.5,718.6 439.5,718.6 440.5,718.6 441.5,718.7 442.5,718.7 443.5,718.7 444.5,718.7 445.5,718.7 446.5,718.8 447.5,718.8 448.5,718.8 449.5,718.8 450.5,718.8 451.5,718.8 452.5,718.8 453.5,718.9 454.5,718.9 455.5,718.9 456.5,718.9 457.5,718.9 458.5,718.9 459.5,718.9 460.5,718.9 461.5,718.9 462.5,719.0 463.5,719.0 464.5,719.0 465.5,719.0 466.5,719.0 467.5,719.0 468.5,719.0 469.5,719.0 470.5,719.0 471.5,719.0 472.5,719.0 473.5,719.1 474.5,719.1 475.5,719.1 476.5,719.1 477.5,719.1 478.5,719.1 479.5,719.1 480.5,719.1 481.5,719.1 482.5,719.1 483.5,719.1 484.5,719.1 485.5,719.1 486.5,719.1 487.5,719.1 488.5,719.2 489.5,719.2 490.5,719.2 491.5,719.2 492.5,719.2 493.5,719.2 494.5,719.2 495.5,719.2 496.5,719.2 497.5,719.2 498.5,719.2 499.5,719.2 500.5,719.2 501.5,719.2 502.5,719.2 503.5,719.2 504.5,719.2 505.5,719.2 506.5,719.2 507.5,719.2 508.5,719.2 509.5,719.2 510.5,719.2 511.5,719.3" fill="none" stroke="#8cae3a" stroke-width="1.5"/>
<polyline points="126.5,700.1 127.5,700.1 128.5,700.1 129.5,700.1 130.5,700.1 131.5,700.1 132.5,700.1 133.5,700.1 134.5,700.1 135.5,700.1 136.5,700.1 137.5,700.1 138.5,700.1 139.5,700.1 140.5,700.1 141.5,700.1 142.5,700.1 143.5,700.1 144.5,700.1 145.5,700.1 146.5,700.1 147.5,700.1 148.5,700.1 149.5,700.1 150.5,700.1 151.5,700.1 152.5,700.1 153.5,700.1 154.5,700.1 155.5,700.1 156.5,700.1 157.5,700.1 158.5,700.1 159.5,700.1 160.5,700.1 161.5,700.1 162.5,700.1 163.5,700.1 164.5,700.1 165.5,700.1 166.5,700.1 167.5,700.1 168.5,700.1 169.5,700.1 170.5,700.1 171.5,700.1 172.5,700.1 173.5,700.1 174.5,700.1 175.5,700.1 176.5,700.1 177.5,700.1 178.5,700.1 179.5,700.1 180.5,700.1 181.5,700.1 182.5,700.0 183.5,700.0 184.5,700.0 185.5,700.0 186.5,700.0 187.5,700.0 188.5,700.0 189.5,700.0 190.5,700.0 191.5,700.0 192.5,700.0 193.5,700.0 194.5,700.0 195.5,700.0 196.5,700.0 197.5,700.0 198.5,700.0 199.5,700.0 200.5,700.0 201.5,700.0 202.5,700.0 203.5,700.0 204.5,700.0 205.5,700.0 206.5,700.0 207.5,700.0 208.5,700.0 209.5,700.0 210.5,700.0 211.5,700.0 212.5,700.0 213.5,700.0 214.5,700.0 215.5,700.0 216.5,700.0 217.5,700.0 218.5,700.0 219.5,700.0 220.5,700.0 221.5,700.0 222.5,700.0 223.5,700.0 224.5,700.0 225.5,700.0 226.5,700.0 227.5,700.0 228.5,700.0 229.5,700.0 230.5,699.9 231.5,699.9 232.5,699.9 233.5,699.9 234.5,699.9 235.5,699.9 236.5,699.9 237.5,699.9 238.5,699.9 239.5,699.8 240.5,699.8 241.5,699.8 242.5,699.8 243.5,699.8 244.5,699.7 245.5,699.7 246.5,699.7 247.5,699.6 248.5,699.6 249.5,699.5 250.5,699.5 251.5,699.4 252.5,699.4 253.5,699.3 254.5,699.2 255.5,699.1 256.5,699.0 257.5,698.8 258.5,698.6 259.5,698.5 260.5,698.2 261.5,698.0 262.5,697.7 263.5,697.4 264.5,697.0 265.5,696.6 266.5,696.1 267.5,695.5 268.5,694.9 269.5,694.2 270.5,693.4 271.5,692.5 272.5,691.4 273.5,690.3 274.5,689.1 275.5,687.7 276.5,686.1 277.5,684.4 278.5,682.5 279.5,680.5 280.5,678.2 281.5,675.8 282.5,673.1 283.5,670.2 284.5,667.1 285.5,663.7 286.5,660.1 287.5,656.2 288.5,652.1 289.5,647.7 290.5,643.0 291.5,638.2 292.5,633.0 293.5,627.6 294.5,622.0 295.5,616.2 296.5,610.1 297.5,603.9 298.5,597.5 299.5,590.9 300.5,584.3 301.5,577.5 302.5,570.7 303.5,563.9 304.5,557.1 305.5,550.3 306.5,543.7 307.5,537.1 308.5,530.8 309.5,524.6 310.5,518.7 311.5,513.2 312.5,507.9 313.5,503.1 314.5,498.6 315.5,494.6 316.5,491.2 317.5,488.2 318.5,485.8 319.5,484.0 320.5,482.7 321.5,482.1 322.5,482.0 323.5,482.6 324.5,483.8 325.5,485.6 326.5,487.9 327.5,490.9 328.5,494.3 329.5,498.3 330.5,502.8 331.5,507.7 332.5,513.1 333.5,518.8 334.5,524.8 335.5,531.1 336.5,537.7 337.5,544.5 338.5,551.4 339.5,558.5 340.5,565.6 341.5,572.8 342.5,580.0 343.5,587.1 344.5,594.2 345.5,601.2 346.5,608.0 347.5,614.7 348.5,621.2 349.5,627.5 350.5,633.6 351.5,639.5 352.5,645.2 353.5,650.5 354.5,655.7 355.5,660.5 356.5,665.2 357.5,669.5 358.5,673.6 359.5,677.4 360.5,681.0 361.5,684.3 362.5,687.4 363.5,690.3 364.5,692.9 365.5,695.4 366.5,697.6 367.5,699.6 368.5,701.5 369.5,703.2 370.5,704.8 371.5,706.2 372.5,707.5 373.5,708.6 374.5,709.7 375.5,710.6 376.5,711.4 377.5,712.2 378.5,712.9 379.5,713.5 380.5,714.0 381.5,714.5 382.5,714.9 383.5,715.3 384.5,715.7 385.5,716.0 386.5,716.2 387.5,716.5 388.5,716.7 389.5,716.9 390.5,717.1 391.5,717.2 392.5,717.4 393.5,717.5 394.5,717.6 395.5,717.7 396.5,717.8 397.5,717.9 398.5,718.0 399.5,718.0 400.5,718.1 401.5,718.2 402.5,718.2 403.5,718.3 404.5,718.3 405.5,718.4 406.5,718.4 407.5,718.5 408.5,718.5 409.5,718.5 410.5,718.6 411.5,718.6 412.5,718.6 413.5,718.6 414.5,718.7 415.5,718.7 416.5,718.7 417.5,718.7 418.5,718.8 419.5,718.8 420.5,718.8 421.5,718.8 422.5,718.8 423.5,718.9 424.5,718.9 425.5,718.9 426.5,718.9 427.5,718.9 428.5,718.9 429.5,718.9 430.5,719.0 431.5,719.0 432.5,719.0 433.5,719.0 434.5,719.0 435.5,719.0 436.5,719.0 437.5,719.0 438.5,719.0 439.5,719.0 440.5,719.0 441.5,719.1 442.5,719.1 443.5,719.1 444.5,719.1 445.5,719.1 446.5,719.1 447.5,719.1 448.5,719.1 449.5,719.1 450.5,719.1 451.5,719.1 452.5,719.1 453.5,719.1 454.5,719.1 455.5,719.1 456.5,719.2 457.5,719.2 458.5,719.2 459.5,719.2 460.5,719.2 461.5,719.2 462.5,719.2 463.5,719.2 464.5,719.2 465.5,719.2 466.5,719.2 467.5,719.2 468.5,719.2 469.5,719.2 470.5,719.2 471.5,719.2 472.5,719.2 473.5,719.2 474.5,719.2 475.5,719.2 476.5,719.2 477.5,719.2 478.5,719.3 479.5,719.3 480.5,719.3 481.5,719.3 482.5,719.3 483.5,719.3 484.5,719.3 485.5,719.3 486.5,719.3 487.5,719.3 488.5,719.3 489.5,719.3 490.5,719.3 491.5,719.3 492.5,719.3 493.5,719.3 494.5,719.3 495.5,719.3 496.5,719.3 497.5,719.3 498.5,719.3 499.5,719.3 500.5,719.3 501.5,719.3 502.5,719.3 503.5,719.3 504.5,719.3 505.5,719.3 506.5,719.3 507.5,719.3 508.5,719.3 509.5,719.3 510.5,719.3 511.5,719.3" fill="none" stroke="#3b78b9" stroke-width="1.5"/>
<polyline points="126.5,700.3 127.5,700.3 128.5,700.3 129.5,700.3 130.5,700.3 131.5,700.3 132.5,700.3 133.5,700.3 134.5,700.3 135.5,700.3 136.5,700.3 137.5,700.3 138.5,700.3 139.5,700.3 140.5,700.3 141.5,700.3 142.5,700.3 143.5,700.3 144.5,700.3 145.5,700.3 146.5,700.3 147.5,700.3 148.5,700.3 149.5,700.3 150.5,700.3 151.5,700.3 152.5,700.3 153.5,700.3 154.5,700.3 155.5,700.2 156.5,700.2 157.5,700.2 158.5,700.2 159.5,700.2 160.5,700.2 161.5,700.2 162.5,700.2 163.5,700.2 164.5,700.2 165.5,700.2 166.5,700.2 167.5,700.2 168.5,700.2 169.5,700.2 170.5,700.2 171.5,700.2 172.5,700.2 173.5,700.2 174.5,700.2 175.5,700.2 176.5,700.2 177.5,700.2 178.5,700.2 179.5,700.2 180.5,700.2 181.5,700.2 182.5,700.2 183.5,700.2 184.5,700.2 185.5,700.2 186.5,700.2 187.5,700.2 188.5,700.3 189.5,700.3 190.5,700.3 191.5,700.3 192.5,700.3 193.5,700.3 194.5,700.3 195.5,700.3 196.5,700.3 197.5,700.3 198.5,700.3 199.5,700.3 200.5,700.3 201.5,700.3 202.5,700.3 203.5,700.3 204.5,700.3 205.5,700.3 206.5,700.3 207.5,700.3 208.5,700.3 209.5,700.2 210.5,700.2 211.5,700.2 212.5,700.2 213.5,700.2 214.5,700.2 215.5,700.2 216.5,700.1 217.5,700.1 218.5,700.1 219.5,700.0 220.5,700.0 221.5,699.9 222.5,699.8 223.5,699.8 224.5,699.7 225.5,699.6 226.5,699.5 227.5,699.3 228.5,699.2 229.5,699.0 230.5,698.8 231.5,698.6 232.5,698.4 233.5,698.2 234.5,697.9 235.5,697.6 236.5,697.3 237.5,696.9 238.5,696.5 239.5,696.1 240.5,695.6 241.5,695.1 242.5,694.5 243.5,694.0 244.5,693.3 245.5,692.7 246.5,691.9 247.5,691.2 248.5,690.4 249.5,689.6 250.5,688.7 251.5,687.8 252.5,686.8 253.5,685.9 254.5,684.8 255.5,683.8 256.5,682.7 257.5,681.7 258.5,680.6 259.5,679.5 260.5,678.3 261.5,677.2 262.5,676.1 263.5,675.1 264.5,674.0 265.5,673.0 266.5,672.0 267.5,671.0 268.5,670.1 269.5,669.2 270.5,668.4 271.5,667.7 272.5,667.1 273.5,666.5 274.5,666.0 275.5,665.6 276.5,665.3 277.5,665.1 278.5,665.0 279.5,665.0 280.5,665.1 281.5,665.3 282.5,665.6 283.5,666.0 284.5,666.4 285.5,667.0 286.5,667.7 287.5,668.4 288.5,669.2 289.5,670.1 290.5,671.1 291.5,672.1 292.5,673.1 293.5,674.3 294.5,675.4 295.5,676.6 296.5,677.8 297.5,679.0 298.5,680.2 299.5,681.4 300.5,682.7 301.5,683.9 302.5,685.1 303.5,686.3 304.5,687.5 305.5,688.6 306.5,689.8 307.5,690.9 308.5,691.9 309.5,693.0 310.5,694.0 311.5,694.9 312.5,695.9 313.5,696.7 314.5,697.6 315.5,698.4 316.5,699.2 317.5,699.9 318.5,700.6 319.5,701.3 320.5,702.0 321.5,702.6 322.5,703.1 323.5,703.7 324.5,704.2 325.5,704.7 326.5,705.2 327.5,705.6 328.5,706.1 329.5,706.5 330.5,706.9 331.5,707.2 332.5,707.6 333.5,707.9 334.5,708.3 335.5,708.6 336.5,708.9 337.5,709.2 338.5,709.5 339.5,709.8 340.5,710.1 341.5,710.4 342.5,710.6 343.5,710.9 344.5,711.2 345.5,711.4 346.5,711.7 347.5,711.9 348.5,712.2 349.5,712.4 350.5,712.7 351.5,712.9 352.5,713.1 353.5,713.4 354.5,713.6 355.5,713.8 356.5,714.0 357.5,714.2 358.5,714.4 359.5,714.7 360.5,714.9 361.5,715.1 362.5,715.3 363.5,715.4 364.5,715.6 365.5,715.8 366.5,716.0 367.5,716.1 368.5,716.3 369.5,716.5 370.5,716.6 371.5,716.8 372.5,716.9 373.5,717.0 374.5,717.2 375.5,717.3 376.5,717.4 377.5,717.5 378.5,717.6 379.5,717.7 380.5,717.8 381.5,717.9 382.5,718.0 383.5,718.1 384.5,718.2 385.5,718.3 386.5,718.3 387.5,718.4 388.5,718.5 389.5,718.5 390.5,718.6 391.5,718.6 392.5,718.7 393.5,718.7 394.5,718.8 395.5,718.8 396.5,718.9 397.5,718.9 398.5,718.9 399.5,719.0 400.5,719.0 401.5,719.0 402.5,719.1 403.5,719.1 404.5,719.1 405.5,719.1 406.5,719.2 407.5,719.2 408.5,719.2 409.5,719.2 410.5,719.2 411.5,719.2 412.5,719.3 413.5,719.3 414.5,719.3 415.5,719.3 416.5,719.3 417.5,719.3 418.5,719.3 419.5,719.3 420.5,719.3 421.5,719.3 422.5,719.3 423.5,719.4 424.5,719.4 425.5,719.4 426.5,719.4 427.5,719.4 428.5,719.4 429.5,719.4 430.5,719.4 431.5,719.4 432.5,719.4 433.5,719.4 434.5,719.4 435.5,719.4 436.5,719.4 437.5,719.4 438.5,719.4 439.5,719.4 440.5,719.4 441.5,719.4 442.5,719.4 443.5,719.4 444.5,719.4 445.5,719.4 446.5,719.4 447.5,719.4 448.5,719.4 449.5,719.4 450.5,719.4 451.5,719.4 452.5,719.4 453.5,719.4 454.5,719.4 455.5,719.4 456.5,719.4 457.5,719.4 458.5,719.4 459.5,719.4 460.5,719.4 461.5,719.4 462.5,719.4 463.5,719.4 464.5,719.5 465.5,719.5 466.5,719.5 467.5,719.5 468.5,719.5 469.5,719.5 470.5,719.5 471.5,719.5 472.5,719.5 473.5,719.5 474.5,719.5 475.5,719.5 476.5,719.5 477.5,719.5 478.5,719.5 479.5,719.5 480.5,719.5 481.5,719.5 482.5,719.5 483.5,719.5 484.5,719.5 485.5,719.5 486.5,719.5 487.5,719.5 488.5,719.5 489.5,719.5 490.5,719.5 491.5,719.5 492.5,719.5 493.5,719.5 494.5,719.5 495.5,719.5 496.5,719.5 497.5,719.5 498.5,719.5 499.5,719.5 500.5,719.5 501.5,719.5 502.5,719.5 503.5,719.5 504.5,719.5 505.5,719.5 506.5,719.5 507.5,719.5 508.5,719.5 509.5,719.5 510.5,719.5 511.5,719.5" fill="none" stroke="#7f5fa6" stroke-width="1.5"/>
<polyline points="126.5,700.3 127.5,700.3 128.5,700.3 129.5,700.3 130.5,700.3 131.5,700.3 132.5,700.3 133.5,700.3 134.5,700.3 135.5,700.3 136.5,700.3 137.5,700.3 138.5,700.3 139.5,700.3 140.5,700.3 141.5,700.3 142.5,700.2 143.5,700.2 144.5,700.2 145.5,700.2 146.5,700.2 147.5,700.2 148.5,700.2 149.5,700.2 150.5,700.2 151.5,700.2 152.5,700.2 153.5,700.2 154.5,700.1 155.5,700.1 156.5,700.1 157.5,700.1 158.5,700.1 159.5,700.0 160.5,700.0 161.5,699.9 162.5,699.9 163.5,699.9 164.5,699.8 165.5,699.7 166.5,699.7 167.5,699.6 168.5,699.5 169.5,699.5 170.5,699.4 171.5,699.3 172.5,699.2 173.5,699.0 174.5,698.9 175.5,698.8 176.5,698.6 177.5,698.5 178.5,698.3 179.5,698.2 180.5,698.0 181.5,697.8 182.5,697.6 183.5,697.4 184.5,697.2 185.5,697.0 186.5,696.7 187.5,696.5 188.5,696.3 189.5,696.0 190.5,695.8 191.5,695.6 192.5,695.3 193.5,695.1 194.5,694.8 195.5,694.6 196.5,694.4 197.5,694.1 198.5,693.9 199.5,693.7 200.5,693.5 201.5,693.3 202.5,693.2 203.5,693.0 204.5,692.9 205.5,692.8 206.5,692.7 207.5,692.6 208.5,692.5 209.5,692.5 210.5,692.5 211.5,692.5 212.5,692.5 213.5,692.6 214.5,692.6 215.5,692.7 216.5,692.8 217.5,693.0 218.5,693.1 219.5,693.3 220.5,693.5 221.5,693.7 222.5,693.9 223.5,694.1 224.5,694.3 225.5,694.5 226.5,694.8 227.5,695.0 228.5,695.3 229.5,695.5 230.5,695.8 231.5,696.0 232.5,696.3 233.5,696.5 234.5,696.8 235.5,697.0 236.5,697.3 237.5,697.5 238.5,697.7 239.5,697.9 240.5,698.1 241.5,698.3 242.5,698.5 243.5,698.7 244.5,698.8 245.5,699.0 246.5,699.2 247.5,699.3 248.5,699.4 249.5,699.6 250.5,699.7 251.5,699.8 252.5,699.9 253.5,700.0 254.5,700.1 255.5,700.2 256.5,700.3 257.5,700.3 258.5,700.4 259.5,700.5 260.5,700.5 261.5,700.6 262.5,700.6 263.5,700.7 264.5,700.8 265.5,700.8 266.5,700.9 267.5,700.9 268.5,700.9 269.5,701.0 270.5,701.0 271.5,701.1 272.5,701.1 273.5,701.2 274.5,701.2 275.5,701.2 276.5,701.3 277.5,701.3 278.5,701.4 279.5,701.4 280.5,701.5 281.5,701.5 282.5,701.6 283.5,701.6 284.5,701.7 285.5,701.7 286.5,701.8 287.5,701.9 288.5,701.9 289.5,702.0 290.5,702.1 291.5,702.1 292.5,702.2 293.5,702.3 294.5,702.4 295.5,702.4 296.5,702.5 297.5,702.6 298.5,702.7 299.5,702.8 300.5,702.9 301.5,703.0 302.5,703.2 303.5,703.3 304.5,703.4 305.5,703.5 306.5,703.7 307.5,703.8 308.5,704.0 309.5,704.1 310.5,704.3 311.5,704.4 312.5,704.6 313.5,704.8 314.5,704.9 315.5,705.1 316.5,705.3 317.5,705.5 318.5,705.7 319.5,705.9 320.5,706.1 321.5,706.3 322.5,706.5 323.5,706.7 324.5,706.9 325.5,707.1 326.5,707.4 327.5,707.6 328.5,707.8 329.5,708.0 330.5,708.2 331.5,708.5 332.5,708.7 333.5,708.9 334.5,709.2 335.5,709.4 336.5,709.6 337.5,709.9 338.5,710.1 339.5,710.3 340.5,710.6 341.5,710.8 342.5,711.0 343.5,711.3 344.5,711.5 345.5,711.7 346.5,711.9 347.5,712.2 348.5,712.4 349.5,712.6 350.5,712.9 351.5,713.1 352.5,713.3 353.5,713.5 354.5,713.7 355.5,714.0 356.5,714.2 357.5,714.4 358.5,714.6 359.5,714.8 360.5,715.0 361.5,715.2 362.5,715.4 363.5,715.6 364.5,715.7 365.5,715.9 366.5,716.1 367.5,716.3 368.5,716.4 369.5,716.6 370.5,716.7 371.5,716.9 372.5,717.0 373.5,717.1 374.5,717.3 375.5,717.4 376.5,717.5 377.5,717.6 378.5,717.7 379.5,717.8 380.5,717.9 381.5,718.0 382.5,718.1 383.5,718.2 384.5,718.3 385.5,718.3 386.5,718.4 387.5,718.5 388.5,718.5 389.5,718.6 390.5,718.7 391.5,718.7 392.5,718.8 393.5,718.8 394.5,718.8 395.5,718.9 396.5,718.9 397.5,719.0 398.5,719.0 399.5,719.0 400.5,719.1 401.5,719.1 402.5,719.1 403.5,719.1 404.5,719.2 405.5,719.2 406.5,719.2 407.5,719.2 408.5,719.2 409.5,719.3 410.5,719.3 411.5,719.3 412.5,719.3 413.5,719.3 414.5,719.3 415.5,719.3 416.5,719.3 417.5,719.4 418.5,719.4 419.5,719.4 420.5,719.4 421.5,719.4 422.5,719.4 423.5,719.4 424.5,719.4 425.5,719.4 426.5,719.4 427.5,719.4 428.5,719.4 429.5,719.4 430.5,719.4 431.5,719.4 432.5,719.4 433.5,719.4 434.5,719.4 435.5,719.4 436.5,719.4 437.5,719.4 438.5,719.4 439.5,719.4 440.5,719.4 441.5,719.5 442.5,719.5 443.5,719.5 444.5,719.5 445.5,719.5 446.5,719.5 447.5,719.5 448.5,719.5 449.5,719.5 450.5,719.5 451.5,719.5 452.5,719.5 453.5,719.5 454.5,719.5 455.5,719.5 456.5,719.5 457.5,719.5 458.5,719.5 459.5,719.5 460.5,719.5 461.5,719.5 462.5,719.5 463.5,719.5 464.5,719.5 465.5,719.5 466.5,719.5 467.5,719.5 468.5,719.5 469.5,719.5 470.5,719.5 471.5,719.5 472.5,719.5 473.5,719.5 474.5,719.5 475.5,719.5 476.5,719.5 477.5,719.5 478.5,719.5 479.5,719.5 480.5,719.5 481.5,719.5 482.5,719.5 483.5,719.5 484.5,719.5 485.5,719.5 486.5,719.5 487.5,719.5 488.5,719.5 489.5,719.5 490.5,719.5 491.5,719.5 492.5,719.5 493.5,719.5 494.5,719.5 495.5,719.5 496.5,719.5 497.5,719.5 498.5,719.5 499.5,719.5 500.5,719.5 501.5,719.5 502.5,719.5 503.5,719.5 504.5,719.5 505.5,719.5 506.5,719.5 507.5,719.5 508.5,719.5 509.5,719.5 510.5,719.5 511.5,719.5" fill="none" stroke="#e8a020" stroke-width="1.5"/>
<polyline points="126.5,700.0 127.5,700.0 128.5,699.9 129.5,699.9 130.5,699.9 131.5,699.9 132.5,699.9 133.5,699.9 134.5,699.9 135.5,699.9 136.5,699.9 137.5,699.9 138.5,699.9 139.5,699.9 140.5,699.9 141.5,699.9 142.5,699.9 143.5,699.9 144.5,699.9 145.5,699.9 146.5,699.8 147.5,699.8 148.5,699.8 149.5,699.8 150.5,699.8 151.5,699.8 152.5,699.8 153.5,699.7 154.5,699.7 155.5,699.7 156.5,699.7 157.5,699.6 158.5,699.6 159.5,699.6 160.5,699.5 161.5,699.5 162.5,699.4 163.5,699.4 164.5,699.3 165.5,699.3 166.5,699.2 167.5,699.1 168.5,699.0 169.5,698.9 170.5,698.8 171.5,698.7 172.5,698.6 173.5,698.5 174.5,698.4 175.5,698.2 176.5,698.1 177.5,697.9 178.5,697.8 179.5,697.6 180.5,697.4 181.5,697.2 182.5,697.0 183.5,696.8 184.5,696.6 185.5,696.3 186.5,696.1 187.5,695.9 188.5,695.6 189.5,695.4 190.5,695.1 191.5,694.9 192.5,694.6 193.5,694.4 194.5,694.1 195.5,693.9 196.5,693.6 197.5,693.4 198.5,693.2 199.5,692.9 200.5,692.7 201.5,692.5 202.5,692.3 203.5,692.2 204.5,692.0 205.5,691.9 206.5,691.8 207.5,691.7 208.5,691.6 209.5,691.5 210.5,691.5 211.5,691.5 212.5,691.5 213.5,691.5 214.5,691.5 215.5,691.6 216.5,691.6 217.5,691.7 218.5,691.8 219.5,691.9 220.5,692.0 221.5,692.1 222.5,692.2 223.5,692.3 224.5,692.5 225.5,692.6 226.5,692.7 227.5,692.8 228.5,692.9 229.5,692.9 230.5,693.0 231.5,693.0 232.5,693.0 233.5,693.0 234.5,692.9 235.5,692.8 236.5,692.7 237.5,692.5 238.5,692.3 239.5,692.0 240.5,691.7 241.5,691.4 242.5,691.0 243.5,690.5 244.5,690.0 245.5,689.5 246.5,688.8 247.5,688.2 248.5,687.4 249.5,686.7 250.5,685.8 251.5,684.9 252.5,684.0 253.5,683.0 254.5,681.9 255.5,680.8 256.5,679.7 257.5,678.5 258.5,677.2 259.5,676.0 260.5,674.6 261.5,673.3 262.5,671.9 263.5,670.5 264.5,669.0 265.5,667.5 266.5,666.0 267.5,664.5 268.5,662.9 269.5,661.3 270.5,659.7 271.5,658.0 272.5,656.3 273.5,654.6 274.5,652.8 275.5,650.9 276.5,649.0 277.5,647.0 278.5,645.0 279.5,642.8 280.5,640.6 281.5,638.2 282.5,635.7 283.5,633.1 284.5,630.3 285.5,627.4 286.5,624.3 287.5,621.0 288.5,617.5 289.5,613.8 290.5,609.9 291.5,605.8 292.5,601.4 293.5,596.8 294.5,592.0 295.5,586.9 296.5,581.6 297.5,576.1 298.5,570.4 299.5,564.5 300.5,558.4 301.5,552.1 302.5,545.7 303.5,539.1 304.5,532.4 305.5,525.6 306.5,518.8 307.5,511.9 308.5,505.1 309.5,498.2 310.5,491.4 311.5,484.7 312.5,478.2 313.5,471.7 314.5,465.4 315.5,459.3 316.5,453.5 317.5,447.9 318.5,442.5 319.5,437.4 320.5,432.6 321.5,428.1 322.5,423.9 323.5,420.0 324.5,416.4 325.5,413.1 326.5,410.2 327.5,407.4 328.5,405.0 329.5,402.8 330.5,400.9 331.5,399.2 332.5,397.8 333.5,396.5 334.5,395.5 335.5,394.6 336.5,393.9 337.5,393.4 338.5,393.1 339.5,392.9 340.5,392.9 341.5,393.0 342.5,393.4 343.5,393.9 344.5,394.6 345.5,395.6 346.5,396.8 347.5,398.2 348.5,399.8 349.5,401.8 350.5,404.0 351.5,406.5 352.5,409.3 353.5,412.5 354.5,416.0 355.5,419.8 356.5,424.0 357.5,428.5 358.5,433.4 359.5,438.5 360.5,444.1 361.5,449.9 362.5,456.0 363.5,462.4 364.5,469.0 365.5,475.8 366.5,482.8 367.5,490.0 368.5,497.4 369.5,504.8 370.5,512.3 371.5,519.9 372.5,527.5 373.5,535.0 374.5,542.6 375.5,550.1 376.5,557.4 377.5,564.7 378.5,571.8 379.5,578.8 380.5,585.6 381.5,592.3 382.5,598.7 383.5,604.9 384.5,611.0 385.5,616.8 386.5,622.3 387.5,627.7 388.5,632.8 389.5,637.7 390.5,642.4 391.5,646.9 392.5,651.1 393.5,655.1 394.5,659.0 395.5,662.6 396.5,666.0 397.5,669.3 398.5,672.4 399.5,675.3 400.5,678.0 401.5,680.6 402.5,683.1 403.5,685.4 404.5,687.6 405.5,689.6 406.5,691.6 407.5,693.4 408.5,695.1 409.5,696.8 410.5,698.3 411.5,699.7 412.5,701.1 413.5,702.4 414.5,703.6 415.5,704.7 416.5,705.8 417.5,706.8 418.5,707.7 419.5,708.5 420.5,709.4 421.5,710.1 422.5,710.8 423.5,711.5 424.5,712.1 425.5,712.6 426.5,713.2 427.5,713.6 428.5,714.1 429.5,714.5 430.5,714.9 431.5,715.2 432.5,715.5 433.5,715.8 434.5,716.1 435.5,716.3 436.5,716.5 437.5,716.7 438.5,716.9 439.5,717.1 440.5,717.2 441.5,717.3 442.5,717.5 443.5,717.6 444.5,717.7 445.5,717.8 446.5,717.8 447.5,717.9 448.5,718.0 449.5,718.0 450.5,718.1 451.5,718.2 452.5,718.2 453.5,718.2 454.5,718.3 455.5,718.3 456.5,718.3 457.5,718.4 458.5,718.4 459.5,718.4 460.5,718.5 461.5,718.5 462.5,718.5 463.5,718.5 464.5,718.5 465.5,718.6 466.5,718.6 467.5,718.6 468.5,718.6 469.5,718.6 470.5,718.6 471.5,718.7 472.5,718.7 473.5,718.7 474.5,718.7 475.5,718.7 476.5,718.7 477.5,718.7 478.5,718.7 479.5,718.8 480.5,718.8 481.5,718.8 482.5,718.8 483.5,718.8 484.5,718.8 485.5,718.8 486.5,718.8 487.5,718.8 488.5,718.9 489.5,718.9 490.5,718.9 491.5,718.9 492.5,718.9 493.5,718.9 494.5,718.9 495.5,718.9 496.5,718.9 497.5,718.9 498.5,718.9 499.5,718.9 500.5,719.0 501.5,719.0 502.5,719.0 503.5,719.0 504.5,719.0 505.5,719.0 506.5,719.0 507.5,719.0 508.5,719.0 509.5,719.0 510.5,719.0 511.5,719.0" fill="none" stroke="#c010c0" stroke-width="1.3"/>
<polyline points="126.5,700.3 127.5,700.3 128.5,700.3 129.5,700.3 130.5,700.3 131.5,700.3 132.5,700.3 133.5,700.3 134.5,700.3 135.5,700.3 136.5,700.3 137.5,700.3 138.5,700.3 139.5,700.3 140.5,700.3 141.5,700.3 142.5,700.3 143.5,700.3 144.5,700.3 145.5,700.3 146.5,700.3 147.5,700.3 148.5,700.3 149.5,700.3 150.5,700.3 151.5,700.3 152.5,700.3 153.5,700.3 154.5,700.3 155.5,700.3 156.5,700.3 157.5,700.3 158.5,700.3 159.5,700.3 160.5,700.3 161.5,700.3 162.5,700.3 163.5,700.3 164.5,700.3 165.5,700.3 166.5,700.3 167.5,700.3 168.5,700.3 169.5,700.3 170.5,700.3 171.5,700.3 172.5,700.3 173.5,700.3 174.5,700.3 175.5,700.3 176.5,700.3 177.5,700.3 178.5,700.3 179.5,700.3 180.5,700.3 181.5,700.3 182.5,700.3 183.5,700.3 184.5,700.3 185.5,700.3 186.5,700.4 187.5,700.4 188.5,700.4 189.5,700.4 190.5,700.4 191.5,700.4 192.5,700.4 193.5,700.4 194.5,700.4 195.5,700.4 196.5,700.4 197.5,700.4 198.5,700.4 199.5,700.4 200.5,700.4 201.5,700.4 202.5,700.4 203.5,700.4 204.5,700.4 205.5,700.4 206.5,700.5 207.5,700.5 208.5,700.5 209.5,700.5 210.5,700.5 211.5,700.5 212.5,700.5 213.5,700.5 214.5,700.5 215.5,700.5 216.5,700.5 217.5,700.5 218.5,700.5 219.5,700.5 220.5,700.5 221.5,700.5 222.5,700.6 223.5,700.6 224.5,700.6 225.5,700.6 226.5,700.6 227.5,700.6 228.5,700.6 229.5,700.6 230.5,700.6 231.5,700.6 232.5,700.6 233.5,700.6 234.5,700.6 235.5,700.6 236.5,700.6 237.5,700.6 238.5,700.6 239.5,700.7 240.5,700.7 241.5,700.7 242.5,700.7 243.5,700.7 244.5,700.7 245.5,700.7 246.5,700.7 247.5,700.7 248.5,700.7 249.5,700.7 250.5,700.7 251.5,700.8 252.5,700.8 253.5,700.8 254.5,700.8 255.5,700.8 256.5,700.8 257.5,700.8 258.5,700.9 259.5,700.9 260.5,700.9 261.5,700.9 262.5,700.9 263.5,701.0 264.5,701.0 265.5,701.0 266.5,701.0 267.5,701.1 268.5,701.1 269.5,701.1 270.5,701.2 271.5,701.2 272.5,701.2 273.5,701.2 274.5,701.3 275.5,701.3 276.5,701.4 277.5,701.4 278.5,701.4 279.5,701.5 280.5,701.5 281.5,701.6 282.5,701.6 283.5,701.7 284.5,701.7 285.5,701.8 286.5,701.8 287.5,701.9 288.5,702.0 289.5,702.0 290.5,702.1 291.5,702.2 292.5,702.2 293.5,702.3 294.5,702.4 295.5,702.5 296.5,702.6 297.5,702.7 298.5,702.8 299.5,702.9 300.5,703.0 301.5,703.1 302.5,703.2 303.5,703.3 304.5,703.4 305.5,703.6 306.5,703.7 307.5,703.8 308.5,704.0 309.5,704.1 310.5,704.3 311.5,704.5 312.5,704.6 313.5,704.8 314.5,705.0 315.5,705.1 316.5,705.3 317.5,705.5 318.5,705.7 319.5,705.9 320.5,706.1 321.5,706.3 322.5,706.5 323.5,706.7 324.5,706.9 325.5,707.2 326.5,707.4 327.5,707.6 328.5,707.8 329.5,708.0 330.5,708.3 331.5,708.5 332.5,708.7 333.5,708.9 334.5,709.2 335.5,709.4 336.5,709.6 337.5,709.9 338.5,710.1 339.5,710.3 340.5,710.6 341.5,710.8 342.5,711.0 343.5,711.3 344.5,711.5 345.5,711.7 346.5,712.0 347.5,712.2 348.5,712.4 349.5,712.6 350.5,712.9 351.5,713.1 352.5,713.3 353.5,713.5 354.5,713.8 355.5,714.0 356.5,714.2 357.5,714.4 358.5,714.6 359.5,714.8 360.5,715.0 361.5,715.2 362.5,715.4 363.5,715.6 364.5,715.8 365.5,715.9 366.5,716.1 367.5,716.3 368.5,716.4 369.5,716.6 370.5,716.7 371.5,716.9 372.5,717.0 373.5,717.1 374.5,717.3 375.5,717.4 376.5,717.5 377.5,717.6 378.5,717.7 379.5,717.8 380.5,717.9 381.5,718.0 382.5,718.1 383.5,718.2 384.5,718.3 385.5,718.3 386.5,718.4 387.5,718.5 388.5,718.5 389.5,718.6 390.5,718.7 391.5,718.7 392.5,718.8 393.5,718.8 394.5,718.9 395.5,718.9 396.5,718.9 397.5,719.0 398.5,719.0 399.5,719.0 400.5,719.1 401.5,719.1 402.5,719.1 403.5,719.1 404.5,719.2 405.5,719.2 406.5,719.2 407.5,719.2 408.5,719.2 409.5,719.3 410.5,719.3 411.5,719.3 412.5,719.3 413.5,719.3 414.5,719.3 415.5,719.3 416.5,719.3 417.5,719.4 418.5,719.4 419.5,719.4 420.5,719.4 421.5,719.4 422.5,719.4 423.5,719.4 424.5,719.4 425.5,719.4 426.5,719.4 427.5,719.4 428.5,719.4 429.5,719.4 430.5,719.4 431.5,719.4 432.5,719.4 433.5,719.4 434.5,719.4 435.5,719.4 436.5,719.4 437.5,719.4 438.5,719.5 439.5,719.5 440.5,719.5 441.5,719.5 442.5,719.5 443.5,719.5 444.5,719.5 445.5,719.5 446.5,719.5 447.5,719.5 448.5,719.5 449.5,719.5 450.5,719.5 451.5,719.5 452.5,719.5 453.5,719.5 454.5,719.5 455.5,719.5 456.5,719.5 457.5,719.5 458.5,719.5 459.5,719.5 460.5,719.5 461.5,719.5 462.5,719.5 463.5,719.5 464.5,719.5 465.5,719.5 466.5,719.5 467.5,719.5 468.5,719.5 469.5,719.5 470.5,719.5 471.5,719.5 472.5,719.5 473.5,719.5 474.5,719.5 475.5,719.5 476.5,719.5 477.5,719.5 478.5,719.5 479.5,719.5 480.5,719.5 481.5,719.5 482.5,719.5 483.5,719.5 484.5,719.5 485.5,719.5 486.5,719.5 487.5,719.5 488.5,719.5 489.5,719.5 490.5,719.5 491.5,719.5 492.5,719.5 493.5,719.5 494.5,719.5 495.5,719.5 496.5,719.5 497.5,719.5 498.5,719.5 499.5,719.5 500.5,719.5 501.5,719.5 502.5,719.5 503.5,719.5 504.5,719.5 505.5,719.5 506.5,719.5 507.5,719.5 508.5,719.5 509.5,719.5 510.5,719.5 511.5,719.5" fill="none" stroke="#1414b4" stroke-width="1.45"/>
<polyline points="26.6,685.8 29.1,684.9 31.6,683.8 34.2,687.4 36.7,687.3 39.2,684.4 41.7,686.0 44.3,685.0 46.8,685.0 49.3,691.2 51.8,687.6 54.3,689.9 56.9,689.6 59.4,689.5 61.9,687.7 64.4,688.2 67.0,691.3 69.5,693.0 72.0,687.7 74.5,689.8 77.1,691.6 79.6,694.3 82.1,693.7 84.6,694.6 87.1,693.9 89.7,692.0 92.2,694.0 94.7,697.0 97.2,695.3 99.8,693.0 102.3,698.4 104.8,696.9 107.3,697.7 109.8,700.4 112.4,696.0 114.9,696.0 117.4,692.8 119.9,698.1 122.5,699.2 125.0,698.2 127.5,698.9 130.0,700.4 132.5,699.2 135.1,698.9 137.6,697.7 140.1,697.5 142.6,699.3 145.2,696.9 147.7,696.1 150.2,695.8 152.7,696.5 155.2,697.1 157.8,697.8 160.3,697.1 162.8,696.3 165.3,694.0 167.9,698.3 170.4,695.3 172.9,696.9 175.4,699.3 178.0,697.4 180.5,695.1 183.0,697.6 185.5,695.4 188.0,694.5 190.6,697.2 193.1,695.6 195.6,699.6 198.1,691.2 200.7,692.7 203.2,693.0 205.7,694.3 208.2,691.1 210.7,694.4 213.3,691.8 215.8,690.3 218.3,691.5 220.8,692.0 223.4,692.1 225.9,691.6 228.4,692.5 230.9,694.9 233.4,694.7 236.0,696.4 238.5,691.0 241.0,689.9 243.5,694.7 246.1,690.3 248.6,688.7 251.1,684.5 253.6,684.5 256.1,681.3 258.7,678.4 261.2,677.3 263.7,670.6 266.2,668.6 268.8,661.7 271.3,661.1 273.8,654.3 276.3,654.0 278.9,644.0 281.4,642.5 283.9,632.2 286.4,623.4 288.9,617.2 291.5,607.0 294.0,593.7 296.5,580.2 299.0,564.1 301.6,551.5 304.1,535.9 306.6,515.3 309.1,501.1 311.6,486.2 314.2,465.0 316.7,453.3 319.2,439.7 321.7,426.2 324.3,417.8 326.8,407.8 329.3,403.9 331.8,401.1 334.3,395.1 336.9,392.8 339.4,390.0 341.9,395.9 344.4,397.3 347.0,396.7 349.5,401.8 352.0,407.8 354.5,418.0 357.0,424.2 359.6,439.9 362.1,450.2 364.6,470.7 367.1,486.4 369.7,507.9 372.2,525.9 374.7,543.2 377.2,561.7 379.8,578.8 382.3,599.7 384.8,614.2 387.3,625.8 389.8,637.4 392.4,651.2 394.9,660.4 397.4,668.2 399.9,676.6 402.5,684.0 405.0,688.4 407.5,694.1 410.0,696.8 412.5,700.3 415.1,701.2 417.6,705.6 420.1,706.2 422.6,707.3 425.2,710.2 427.7,711.3 430.2,713.0 432.7,715.7 435.2,717.2 437.8,713.1 440.3,716.2 442.8,717.0 445.3,714.8 447.9,717.9 450.4,716.6 452.9,716.1 455.4,713.7 457.9,714.3 460.5,717.2 463.0,720.3 465.5,716.1 468.0,712.9 470.6,719.2 473.1,717.1 475.6,719.0 478.1,715.7 480.7,718.5 483.2,717.6 485.7,714.7 488.2,716.4 490.7,717.4 493.3,715.7 495.8,719.7 498.3,716.8 500.8,719.4 503.4,717.4 505.9,719.2 508.4,719.2 510.9,714.6 513.4,717.1 516.0,719.1 518.5,717.2 521.0,720.8 523.5,720.5 526.1,716.6 528.6,718.6 531.1,719.4 533.6,717.1 536.1,721.6 538.7,720.0 541.2,718.7 543.7,717.1 546.2,717.0 548.8,717.3 551.3,720.3 553.8,717.2 556.3,720.5 558.8,723.3 561.4,716.4 563.9,717.7 566.4,721.1 568.9,719.6 571.5,717.4 574.0,719.0 576.5,719.0 579.0,720.6 581.6,717.5 584.1,718.7 586.6,719.0 589.1,720.0 591.6,718.9 594.2,716.5 596.7,716.9 599.2,721.7 601.7,718.5 604.3,719.7 606.8,719.6 609.3,720.3 611.8,722.2 614.3,719.7 616.9,721.2 619.4,720.7 621.9,720.2 624.4,717.7 627.0,719.0 629.5,721.6 632.0,719.3 634.5,719.3 637.0,719.4 639.6,717.7 642.1,718.4 644.6,720.4 647.1,718.4 649.7,717.7 652.2,721.5 654.7,721.7 657.4,720.1" fill="none" stroke="#000" stroke-width="1.4" stroke-linejoin="round"/>
<line x1="23.95" y1="1.00" x2="23.95" y2="740.80" stroke="#000" stroke-width="1.75"/>
<line x1="23.05" y1="739.90" x2="658.10" y2="739.90" stroke="#000" stroke-width="1.8"/>
<line x1="23.95" y1="1.60" x2="658.05" y2="1.60" stroke="#000" stroke-width="1.3"/>
<line x1="657.40" y1="1.60" x2="657.40" y2="739.90" stroke="#000" stroke-width="1.3"/>
<line x1="19.95" y1="26.21" x2="23.95" y2="26.21" stroke="#000" stroke-width="1.3"/>
<line x1="657.40" y1="26.21" x2="661.20" y2="26.21" stroke="#000" stroke-width="1.2"/>
<line x1="19.95" y1="50.82" x2="23.95" y2="50.82" stroke="#000" stroke-width="1.3"/>
<line x1="657.40" y1="50.82" x2="661.20" y2="50.82" stroke="#000" stroke-width="1.2"/>
<line x1="19.95" y1="75.43" x2="23.95" y2="75.43" stroke="#000" stroke-width="1.3"/>
<line x1="657.40" y1="75.43" x2="661.20" y2="75.43" stroke="#000" stroke-width="1.2"/>
<line x1="19.95" y1="100.04" x2="23.95" y2="100.04" stroke="#000" stroke-width="1.3"/>
<line x1="657.40" y1="100.04" x2="661.20" y2="100.04" stroke="#000" stroke-width="1.2"/>
<line x1="16.35" y1="124.65" x2="23.95" y2="124.65" stroke="#000" stroke-width="1.3"/>
<line x1="657.40" y1="124.65" x2="664.40" y2="124.65" stroke="#000" stroke-width="1.2"/>
<line x1="19.95" y1="149.26" x2="23.95" y2="149.26" stroke="#000" stroke-width="1.3"/>
<line x1="657.40" y1="149.26" x2="661.20" y2="149.26" stroke="#000" stroke-width="1.2"/>
<line x1="19.95" y1="173.87" x2="23.95" y2="173.87" stroke="#000" stroke-width="1.3"/>
<line x1="657.40" y1="173.87" x2="661.20" y2="173.87" stroke="#000" stroke-width="1.2"/>
<line x1="19.95" y1="198.48" x2="23.95" y2="198.48" stroke="#000" stroke-width="1.3"/>
<line x1="657.40" y1="198.48" x2="661.20" y2="198.48" stroke="#000" stroke-width="1.2"/>
<line x1="19.95" y1="223.09" x2="23.95" y2="223.09" stroke="#000" stroke-width="1.3"/>
<line x1="657.40" y1="223.09" x2="661.20" y2="223.09" stroke="#000" stroke-width="1.2"/>
<line x1="16.35" y1="247.70" x2="23.95" y2="247.70" stroke="#000" stroke-width="1.3"/>
<line x1="657.40" y1="247.70" x2="664.40" y2="247.70" stroke="#000" stroke-width="1.2"/>
<line x1="19.95" y1="272.31" x2="23.95" y2="272.31" stroke="#000" stroke-width="1.3"/>
<line x1="657.40" y1="272.31" x2="661.20" y2="272.31" stroke="#000" stroke-width="1.2"/>
<line x1="19.95" y1="296.92" x2="23.95" y2="296.92" stroke="#000" stroke-width="1.3"/>
<line x1="657.40" y1="296.92" x2="661.20" y2="296.92" stroke="#000" stroke-width="1.2"/>
<line x1="19.95" y1="321.53" x2="23.95" y2="321.53" stroke="#000" stroke-width="1.3"/>
<line x1="657.40" y1="321.53" x2="661.20" y2="321.53" stroke="#000" stroke-width="1.2"/>
<line x1="19.95" y1="346.14" x2="23.95" y2="346.14" stroke="#000" stroke-width="1.3"/>
<line x1="657.40" y1="346.14" x2="661.20" y2="346.14" stroke="#000" stroke-width="1.2"/>
<line x1="16.35" y1="370.75" x2="23.95" y2="370.75" stroke="#000" stroke-width="1.3"/>
<line x1="657.40" y1="370.75" x2="664.40" y2="370.75" stroke="#000" stroke-width="1.2"/>
<line x1="19.95" y1="395.36" x2="23.95" y2="395.36" stroke="#000" stroke-width="1.3"/>
<line x1="657.40" y1="395.36" x2="661.20" y2="395.36" stroke="#000" stroke-width="1.2"/>
<line x1="19.95" y1="419.97" x2="23.95" y2="419.97" stroke="#000" stroke-width="1.3"/>
<line x1="657.40" y1="419.97" x2="661.20" y2="419.97" stroke="#000" stroke-width="1.2"/>
<line x1="19.95" y1="444.58" x2="23.95" y2="444.58" stroke="#000" stroke-width="1.3"/>
<line x1="657.40" y1="444.58" x2="661.20" y2="444.58" stroke="#000" stroke-width="1.2"/>
<line x1="19.95" y1="469.19" x2="23.95" y2="469.19" stroke="#000" stroke-width="1.3"/>
<line x1="657.40" y1="469.19" x2="661.20" y2="469.19" stroke="#000" stroke-width="1.2"/>
<line x1="16.35" y1="493.80" x2="23.95" y2="493.80" stroke="#000" stroke-width="1.3"/>
<line x1="657.40" y1="493.80" x2="664.40" y2="493.80" stroke="#000" stroke-width="1.2"/>
<line x1="19.95" y1="518.41" x2="23.95" y2="518.41" stroke="#000" stroke-width="1.3"/>
<line x1="657.40" y1="518.41" x2="661.20" y2="518.41" stroke="#000" stroke-width="1.2"/>
<line x1="19.95" y1="543.02" x2="23.95" y2="543.02" stroke="#000" stroke-width="1.3"/>
<line x1="657.40" y1="543.02" x2="661.20" y2="543.02" stroke="#000" stroke-width="1.2"/>
<line x1="19.95" y1="567.63" x2="23.95" y2="567.63" stroke="#000" stroke-width="1.3"/>
<line x1="657.40" y1="567.63" x2="661.20" y2="567.63" stroke="#000" stroke-width="1.2"/>
<line x1="19.95" y1="592.24" x2="23.95" y2="592.24" stroke="#000" stroke-width="1.3"/>
<line x1="657.40" y1="592.24" x2="661.20" y2="592.24" stroke="#000" stroke-width="1.2"/>
<line x1="16.35" y1="616.85" x2="23.95" y2="616.85" stroke="#000" stroke-width="1.3"/>
<line x1="657.40" y1="616.85" x2="664.40" y2="616.85" stroke="#000" stroke-width="1.2"/>
<line x1="19.95" y1="641.46" x2="23.95" y2="641.46" stroke="#000" stroke-width="1.3"/>
<line x1="657.40" y1="641.46" x2="661.20" y2="641.46" stroke="#000" stroke-width="1.2"/>
<line x1="19.95" y1="666.07" x2="23.95" y2="666.07" stroke="#000" stroke-width="1.3"/>
<line x1="657.40" y1="666.07" x2="661.20" y2="666.07" stroke="#000" stroke-width="1.2"/>
<line x1="19.95" y1="690.68" x2="23.95" y2="690.68" stroke="#000" stroke-width="1.3"/>
<line x1="657.40" y1="690.68" x2="661.20" y2="690.68" stroke="#000" stroke-width="1.2"/>
<line x1="19.95" y1="715.29" x2="23.95" y2="715.29" stroke="#000" stroke-width="1.3"/>
<line x1="657.40" y1="715.29" x2="661.20" y2="715.29" stroke="#000" stroke-width="1.2"/>
<line x1="33.38" y1="739.90" x2="33.38" y2="746.10" stroke="#000" stroke-width="1.5"/>
<line x1="58.60" y1="739.90" x2="58.60" y2="751.50" stroke="#000" stroke-width="1.5"/>
<text transform="translate(58.60 764.9) scale(1.0 1)" text-anchor="middle" class="t">544</text>
<line x1="83.83" y1="739.90" x2="83.83" y2="746.10" stroke="#000" stroke-width="1.5"/>
<line x1="109.05" y1="739.90" x2="109.05" y2="746.10" stroke="#000" stroke-width="1.5"/>
<line x1="134.28" y1="739.90" x2="134.28" y2="746.10" stroke="#000" stroke-width="1.5"/>
<line x1="159.50" y1="739.90" x2="159.50" y2="751.50" stroke="#000" stroke-width="1.5"/>
<text transform="translate(159.50 764.9) scale(1.0 1)" text-anchor="middle" class="t">540</text>
<line x1="184.72" y1="739.90" x2="184.72" y2="746.10" stroke="#000" stroke-width="1.5"/>
<line x1="209.95" y1="739.90" x2="209.95" y2="746.10" stroke="#000" stroke-width="1.5"/>
<line x1="235.18" y1="739.90" x2="235.18" y2="746.10" stroke="#000" stroke-width="1.5"/>
<line x1="260.40" y1="739.90" x2="260.40" y2="751.50" stroke="#000" stroke-width="1.5"/>
<text transform="translate(260.40 764.9) scale(1.0 1)" text-anchor="middle" class="t">536</text>
<line x1="285.62" y1="739.90" x2="285.62" y2="746.10" stroke="#000" stroke-width="1.5"/>
<line x1="310.85" y1="739.90" x2="310.85" y2="746.10" stroke="#000" stroke-width="1.5"/>
<line x1="336.08" y1="739.90" x2="336.08" y2="746.10" stroke="#000" stroke-width="1.5"/>
<line x1="361.30" y1="739.90" x2="361.30" y2="751.50" stroke="#000" stroke-width="1.5"/>
<text transform="translate(361.30 764.9) scale(1.0 1)" text-anchor="middle" class="t">532</text>
<line x1="386.53" y1="739.90" x2="386.53" y2="746.10" stroke="#000" stroke-width="1.5"/>
<line x1="411.75" y1="739.90" x2="411.75" y2="746.10" stroke="#000" stroke-width="1.5"/>
<line x1="436.98" y1="739.90" x2="436.98" y2="746.10" stroke="#000" stroke-width="1.5"/>
<line x1="462.20" y1="739.90" x2="462.20" y2="751.50" stroke="#000" stroke-width="1.5"/>
<text transform="translate(462.20 764.9) scale(1.0 1)" text-anchor="middle" class="t">528</text>
<line x1="487.43" y1="739.90" x2="487.43" y2="746.10" stroke="#000" stroke-width="1.5"/>
<line x1="512.65" y1="739.90" x2="512.65" y2="746.10" stroke="#000" stroke-width="1.5"/>
<line x1="537.88" y1="739.90" x2="537.88" y2="746.10" stroke="#000" stroke-width="1.5"/>
<line x1="563.10" y1="739.90" x2="563.10" y2="751.50" stroke="#000" stroke-width="1.5"/>
<text transform="translate(563.10 764.9) scale(1.0 1)" text-anchor="middle" class="t">524</text>
<line x1="588.33" y1="739.90" x2="588.33" y2="746.10" stroke="#000" stroke-width="1.5"/>
<line x1="613.55" y1="739.90" x2="613.55" y2="746.10" stroke="#000" stroke-width="1.5"/>
<line x1="638.78" y1="739.90" x2="638.78" y2="746.10" stroke="#000" stroke-width="1.5"/>
<text transform="translate(60.6 274.7) scale(1.045 1)" class="t">KBB</text>
<text transform="translate(61.0 644.5) scale(1.045 1)" class="t">GNP</text>
<text transform="translate(340.6 782.7) scale(1.035 1)" text-anchor="middle" class="t l">Binding Energy (eV)</text>
<text transform="translate(12.0 370.8) rotate(-90) scale(1.045 1)" text-anchor="middle" class="t l">Arbitrary Units</text>
</svg>
</body>
</html>
